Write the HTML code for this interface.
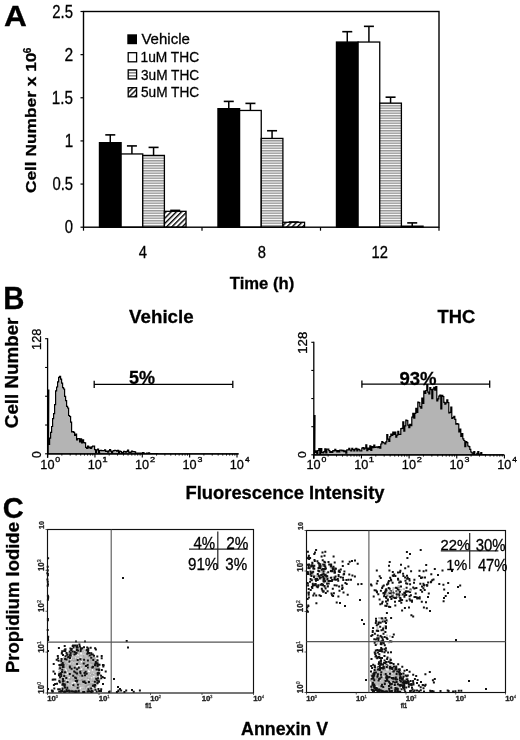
<!DOCTYPE html>
<html><head><meta charset="utf-8"><style>
html,body{margin:0;padding:0;background:#fff;width:520px;height:740px;overflow:hidden}
svg{display:block;will-change:transform}
text{font-family:"Liberation Sans",sans-serif;stroke-width:0.3px}
</style></head><body>
<svg width="520" height="740" viewBox="0 0 520 740">
<text transform="translate(4.01,25.60) scale(1.0598,1)" font-size="29.86" font-weight="bold" fill="#000" stroke="#000">A</text>
<defs><pattern id="hs" width="6" height="2.5" patternUnits="userSpaceOnUse"><rect width="6" height="2.5" fill="#fff"/><rect y="0" width="6" height="1.5" fill="#9a9a9a"/></pattern><pattern id="dg" width="3.7" height="5" patternUnits="userSpaceOnUse" patternTransform="rotate(45)"><rect width="3.7" height="5" fill="#fff"/><rect width="1.4" height="5" fill="#000"/></pattern><pattern id="hsl" width="6" height="3" patternUnits="userSpaceOnUse"><rect width="6" height="3" fill="#fff"/><rect y="0" width="6" height="1.6" fill="#8a8a8a"/></pattern></defs>
<line x1="110.28" y1="134.88" x2="110.28" y2="142.65" stroke="#000" stroke-width="1.5"/>
<line x1="105.28" y1="134.88" x2="115.28" y2="134.88" stroke="#000" stroke-width="1.6"/>
<rect x="99.45" y="142.65" width="21.65" height="84.55" fill="#000" stroke="#000" stroke-width="1.3"/>
<line x1="131.92" y1="145.92" x2="131.92" y2="153.95" stroke="#000" stroke-width="1.5"/>
<line x1="126.92" y1="145.92" x2="136.92" y2="145.92" stroke="#000" stroke-width="1.6"/>
<rect x="121.10" y="153.95" width="21.65" height="73.25" fill="#fff" stroke="#000" stroke-width="1.3"/>
<line x1="153.57" y1="147.39" x2="153.57" y2="155.42" stroke="#000" stroke-width="1.5"/>
<line x1="148.57" y1="147.39" x2="158.57" y2="147.39" stroke="#000" stroke-width="1.6"/>
<rect x="142.75" y="155.42" width="21.65" height="71.78" fill="url(#hs)" stroke="#000" stroke-width="1.3"/>
<line x1="175.22" y1="210.38" x2="175.22" y2="211.32" stroke="#000" stroke-width="1.5"/>
<line x1="170.22" y1="210.38" x2="180.22" y2="210.38" stroke="#000" stroke-width="1.6"/>
<rect x="164.40" y="211.32" width="21.65" height="15.88" fill="url(#dg)" stroke="#000" stroke-width="1.3"/>
<line x1="228.77" y1="101.40" x2="228.77" y2="108.65" stroke="#000" stroke-width="1.5"/>
<line x1="223.77" y1="101.40" x2="233.77" y2="101.40" stroke="#000" stroke-width="1.6"/>
<rect x="217.95" y="108.65" width="21.65" height="118.55" fill="#000" stroke="#000" stroke-width="1.3"/>
<line x1="250.42" y1="103.39" x2="250.42" y2="110.46" stroke="#000" stroke-width="1.5"/>
<line x1="245.42" y1="103.39" x2="255.42" y2="103.39" stroke="#000" stroke-width="1.6"/>
<rect x="239.60" y="110.46" width="21.65" height="116.74" fill="#fff" stroke="#000" stroke-width="1.3"/>
<line x1="272.07" y1="130.74" x2="272.07" y2="138.42" stroke="#000" stroke-width="1.5"/>
<line x1="267.07" y1="130.74" x2="277.07" y2="130.74" stroke="#000" stroke-width="1.6"/>
<rect x="261.25" y="138.42" width="21.65" height="88.78" fill="url(#hs)" stroke="#000" stroke-width="1.3"/>
<line x1="293.72" y1="222.02" x2="293.72" y2="222.28" stroke="#000" stroke-width="1.5"/>
<line x1="288.72" y1="222.02" x2="298.72" y2="222.02" stroke="#000" stroke-width="1.6"/>
<rect x="282.90" y="222.28" width="21.65" height="4.92" fill="url(#dg)" stroke="#000" stroke-width="1.3"/>
<line x1="347.27" y1="31.69" x2="347.27" y2="42.04" stroke="#000" stroke-width="1.5"/>
<line x1="342.27" y1="31.69" x2="352.27" y2="31.69" stroke="#000" stroke-width="1.6"/>
<rect x="336.45" y="42.04" width="21.65" height="185.16" fill="#000" stroke="#000" stroke-width="1.3"/>
<line x1="368.92" y1="26.34" x2="368.92" y2="42.04" stroke="#000" stroke-width="1.5"/>
<line x1="363.92" y1="26.34" x2="373.92" y2="26.34" stroke="#000" stroke-width="1.6"/>
<rect x="358.10" y="42.04" width="21.65" height="185.16" fill="#fff" stroke="#000" stroke-width="1.3"/>
<line x1="390.57" y1="97.18" x2="390.57" y2="103.13" stroke="#000" stroke-width="1.5"/>
<line x1="385.57" y1="97.18" x2="395.57" y2="97.18" stroke="#000" stroke-width="1.6"/>
<rect x="379.75" y="103.13" width="21.65" height="124.07" fill="url(#hs)" stroke="#000" stroke-width="1.3"/>
<line x1="412.22" y1="222.89" x2="412.22" y2="226.16" stroke="#000" stroke-width="1.5"/>
<line x1="407.22" y1="222.89" x2="417.22" y2="222.89" stroke="#000" stroke-width="1.6"/>
<rect x="401.40" y="226.16" width="21.65" height="1.04" fill="url(#dg)" stroke="#000" stroke-width="1.3"/>
<rect x="83.5" y="11.5" width="355.5" height="215.7" fill="none" stroke="#000" stroke-width="1.4"/>
<line x1="80.50" y1="227.20" x2="83.50" y2="227.20" stroke="#000" stroke-width="1.2"/>
<line x1="80.50" y1="184.06" x2="83.50" y2="184.06" stroke="#000" stroke-width="1.2"/>
<line x1="80.50" y1="140.92" x2="83.50" y2="140.92" stroke="#000" stroke-width="1.2"/>
<line x1="80.50" y1="97.78" x2="83.50" y2="97.78" stroke="#000" stroke-width="1.2"/>
<line x1="80.50" y1="54.64" x2="83.50" y2="54.64" stroke="#000" stroke-width="1.2"/>
<line x1="80.50" y1="11.50" x2="83.50" y2="11.50" stroke="#000" stroke-width="1.2"/>
<line x1="83.50" y1="227.20" x2="83.50" y2="230.70" stroke="#000" stroke-width="1.2"/>
<line x1="202.00" y1="227.20" x2="202.00" y2="230.70" stroke="#000" stroke-width="1.2"/>
<line x1="320.50" y1="227.20" x2="320.50" y2="230.70" stroke="#000" stroke-width="1.2"/>
<line x1="439.00" y1="227.20" x2="439.00" y2="230.70" stroke="#000" stroke-width="1.2"/>
<text transform="translate(52.25,17.60) scale(0.8562,1)" font-size="17.43" fill="#000" stroke="#000">2.5</text>
<text transform="translate(64.52,60.74) scale(0.8953,1)" font-size="17.43" fill="#000" stroke="#000">2</text>
<text transform="translate(51.86,103.88) scale(0.8606,1)" font-size="17.68" fill="#000" stroke="#000">1.5</text>
<text transform="translate(64.66,147.02) scale(0.8581,1)" font-size="17.68" fill="#000" stroke="#000">1</text>
<text transform="translate(52.41,190.16) scale(0.8497,1)" font-size="17.43" fill="#000" stroke="#000">0.5</text>
<text transform="translate(64.71,233.30) scale(0.8487,1)" font-size="17.43" fill="#000" stroke="#000">0</text>
<text transform="translate(138.73,257.70) scale(0.8856,1)" font-size="16.67" fill="#000" stroke="#000">4</text>
<text transform="translate(257.87,257.70) scale(0.8984,1)" font-size="16.43" fill="#000" stroke="#000">8</text>
<text transform="translate(371.62,257.70) scale(0.8984,1)" font-size="16.43" fill="#000" stroke="#000">12</text>
<text transform="translate(229.83,289.20) scale(1.0275,1)" font-size="16.20" font-weight="bold" fill="#000" stroke="#000">Time (h)</text>
<rect x="127.3" y="34.3" width="9.7" height="9.9" fill="#000"/>
<text transform="translate(141.42,44.40) scale(1.0180,1)" font-size="14.76" fill="#000" stroke="#000">Vehicle</text>
<rect x="128.2" y="52.7" width="8.4" height="9.1" fill="#fff" stroke="#000" stroke-width="1.3"/>
<text transform="translate(140.47,62.30) scale(0.9017,1)" font-size="15.29" fill="#000" stroke="#000">1uM THC</text>
<rect x="128.2" y="69.9" width="8.4" height="9.1" fill="url(#hsl)" stroke="#000" stroke-width="1.3"/>
<text transform="translate(140.95,79.50) scale(0.8942,1)" font-size="15.29" fill="#000" stroke="#000">3uM THC</text>
<rect x="128.2" y="87.7" width="8.4" height="9.1" fill="url(#dg)" stroke="#000" stroke-width="1.3"/>
<text transform="translate(140.95,97.30) scale(0.8942,1)" font-size="15.29" fill="#000" stroke="#000">5uM THC</text>
<text transform="translate(35.60,193.09) rotate(-90) scale(1.1214,1)" font-size="15.45" font-weight="bold" fill="#000" stroke="#000">Cell Number x 10</text>
<text transform="translate(31.10,53.15) rotate(-90) scale(0.9116,1)" font-size="10.86" font-weight="bold" fill="#000" stroke="#000">6</text>
<text transform="translate(3.29,309.00) scale(0.9506,1)" font-size="30.87" font-weight="bold" fill="#000" stroke="#000">B</text>
<text transform="translate(129.11,322.80) scale(0.9989,1)" font-size="18.76" font-weight="bold" fill="#000" stroke="#000">Vehicle</text>
<text transform="translate(437.62,322.80) scale(0.9863,1)" font-size="18.57" font-weight="bold" fill="#000" stroke="#000">THC</text>
<text transform="translate(18.30,428.15) rotate(-90) scale(1.0239,1)" font-size="18.34" font-weight="bold" fill="#000" stroke="#000">Cell Number</text>
<text transform="translate(185.51,499.00) scale(0.9981,1)" font-size="18.40" font-weight="bold" fill="#000" stroke="#000">Fluorescence Intensity</text>
<path d="M48.1,453.8 L48.1,390.0 L48.8,390.0 L48.6,444.4 L49.6,444.4 L49.6,438.1 L50.6,438.1 L50.6,432.4 L51.6,432.4 L51.6,426.5 L52.6,426.5 L52.6,418.7 L53.6,418.7 L53.6,413.7 L54.6,413.7 L54.6,404.7 L55.6,404.7 L55.6,390.8 L56.6,390.8 L56.6,387.0 L57.6,387.0 L57.6,381.8 L58.6,381.8 L58.6,377.3 L59.6,377.3 L59.6,376.4 L60.6,376.4 L60.6,379.1 L61.6,379.1 L61.6,383.2 L62.6,383.2 L62.6,387.6 L63.6,387.6 L63.6,389.0 L64.6,389.0 L64.6,396.3 L65.6,396.3 L65.6,400.7 L66.6,400.7 L66.6,406.3 L67.6,406.3 L67.6,408.0 L68.6,408.0 L68.6,415.5 L69.6,415.5 L69.6,416.5 L70.6,416.5 L70.6,422.1 L71.6,422.1 L71.6,431.8 L72.6,431.8 L72.6,431.7 L73.6,431.7 L73.6,432.3 L74.6,432.3 L74.6,435.3 L75.6,435.3 L75.6,434.2 L76.6,434.2 L76.6,439.9 L77.6,439.9 L77.6,438.5 L78.6,438.5 L78.6,438.7 L79.6,438.7 L79.6,441.9 L80.6,441.9 L80.6,438.9 L81.6,438.9 L81.6,442.8 L82.6,442.8 L82.6,439.9 L83.6,439.9 L83.6,442.7 L84.6,442.7 L84.6,442.8 L85.6,442.8 L85.6,447.3 L86.6,447.3 L86.6,448.5 L87.6,448.5 L87.6,446.0 L88.6,446.0 L88.6,448.0 L89.6,448.0 L89.6,447.0 L90.6,447.0 L90.6,448.4 L91.6,448.4 L91.6,446.9 L92.6,446.9 L92.6,446.0 L93.6,446.0 L93.6,446.2 L94.6,446.2 L94.6,449.6 L95.6,449.6 L95.6,452.4 L96.6,452.4 L96.6,449.9 L97.6,449.9 L97.6,449.0 L98.6,449.0 L98.6,452.6 L99.6,452.6 L99.6,450.5 L100.6,450.5 L100.6,450.4 L101.6,450.4 L101.6,450.7 L102.6,450.7 L102.6,450.6 L103.6,450.6 L103.6,450.7 L104.6,450.7 L104.6,449.9 L105.6,449.9 L105.6,451.5 L106.6,451.5 L106.6,451.0 L107.6,451.0 L107.6,452.1 L108.6,452.1 L108.6,450.9 L109.6,450.9 L109.6,449.7 L110.6,449.7 L110.6,451.1 L111.6,451.1 L111.6,452.6 L112.6,452.6 L112.6,451.0 L113.6,451.0 L113.6,450.6 L114.6,450.6 L114.6,450.4 L115.6,450.4 L115.6,450.5 L116.6,450.5 L116.6,451.1 L117.6,451.1 L117.6,450.4 L118.6,450.4 L118.6,452.6 L119.6,452.6 L119.6,451.2 L120.6,451.2 L120.6,451.5 L121.6,451.5 L121.6,452.6 L122.6,452.6 L122.6,452.6 L123.6,452.6 L123.6,451.3 L124.6,451.3 L124.6,451.7 L125.6,451.7 L125.6,452.1 L126.6,452.1 L126.6,451.3 L127.6,451.3 L127.6,450.1 L128.6,450.1 L128.6,452.1 L129.6,452.1 L129.6,452.4 L130.6,452.4 L130.6,452.1 L131.6,452.1 L131.6,451.1 L132.6,451.1 L132.6,451.7 L133.6,451.7 L133.6,451.5 L134.6,451.5 L134.6,451.8 L135.6,451.8 L135.6,453.2 L136.6,453.2 L136.6,453.6 L137.6,453.6 L137.6,453.1 L138.6,453.1 L138.6,453.2 L139.6,453.2 L139.6,453.5 L140.6,453.5 L140.6,453.0 L141.6,453.0 L141.6,453.0 L142.6,453.0 L142.6,452.6 L143.6,452.6 L143.6,453.2 L144.6,453.2 L144.6,453.8 L145.6,453.8 L145.6,453.8 L146.6,453.8 L146.6,453.1 L147.6,453.1 L147.6,453.1 L148.6,453.1 L148.6,452.8 L149.6,452.8 L149.6,453.8 L150.6,453.8 L150.6,453.6 L151.6,453.6 L151.6,453.6 L152.6,453.6 L152.6,453.7 L153.6,453.7 L153.6,453.7 L154.6,453.7 L154.6,453.7 L155.6,453.7 L155.6,453.7 L156.6,453.7 L156.6,453.7 L157.6,453.7 L157.6,453.8 L158.6,453.8 L158.6,453.8 L159.6,453.8 L159.6,453.8 L160.6,453.8 L160.6,453.8 L161.6,453.8 L161.6,453.8 L162.6,453.8 L162.6,453.8 L163.6,453.8 L163.6,453.8 L164.6,453.8 L164.6,453.8 L165.6,453.8 L165.6,453.8 L166.6,453.8 L166.6,453.8 L167.6,453.8 L167.6,453.8 L168.6,453.8 L168.6,453.8 L169.6,453.8 L169.6,453.8 L170.6,453.8 L170.6,453.8 L171.6,453.8 L171.6,453.8 L172.6,453.8 L172.6,453.8 L173.6,453.8 L173.6,453.8 L174.6,453.8 L174.6,453.8 L175.6,453.8 L175.6,453.8 L176.6,453.8 L176.6,453.8 L177.6,453.8 L177.6,453.8 L178.6,453.8 L178.6,453.8 L179.6,453.8 L179.6,453.8 L180.6,453.8 L180.6,453.8 L181.6,453.8 L181.6,453.8 L182.6,453.8 L182.6,453.8 L183.6,453.8 L183.6,453.8 L184.6,453.8 L184.6,453.8 L185.6,453.8 L185.6,453.8 L186.6,453.8 L186.6,453.8 L187.6,453.8 L187.6,453.8 L188.6,453.8 L188.6,453.8 L189.6,453.8 L189.6,453.8 L190.6,453.8 L190.6,453.8 L191.6,453.8 L191.6,453.8 L192.6,453.8 L192.6,453.8 L193.6,453.8 L193.6,453.8 L194.6,453.8 L194.6,453.8 L195.6,453.8 L195.6,453.8 L196.6,453.8 L196.6,453.8 L197.6,453.8 L197.6,453.8 L198.6,453.8 L198.6,453.8 L199.6,453.8 L199.6,453.8 L200.6,453.8 L200.6,453.8 L201.6,453.8 L201.6,453.8 L202.6,453.8 L202.6,453.8 L203.6,453.8 L203.6,453.8 L204.6,453.8 L204.6,453.8 L205.6,453.8 L205.6,453.8 L206.6,453.8 L206.6,453.8 L207.6,453.8 L207.6,453.8 L208.6,453.8 L208.6,453.8 L209.6,453.8 L209.6,453.8 L210.6,453.8 L210.6,453.8 L211.6,453.8 L211.6,453.8 L212.6,453.8 L212.6,453.8 L213.6,453.8 L213.6,453.8 L214.6,453.8 L214.6,453.8 L215.6,453.8 L215.6,453.8 L216.6,453.8 L216.6,453.8 L217.6,453.8 L217.6,453.8 L218.6,453.8 L218.6,453.8 L219.6,453.8 L219.6,453.8 L220.6,453.8 L220.6,453.8 L221.6,453.8 L221.6,453.8 L222.6,453.8 L222.6,453.8 L223.6,453.8 L223.6,453.8 L224.6,453.8 L224.6,453.8 L225.6,453.8 L225.6,453.8 L226.6,453.8 L226.6,453.8 L227.6,453.8 L227.6,453.8 L228.6,453.8 L228.6,453.8 L229.6,453.8 L229.6,453.8 L230.6,453.8 L230.6,453.8 L231.6,453.8 L231.6,453.8 L232.6,453.8 L232.6,453.8 L233.6,453.8 L233.6,453.8 L234.6,453.8 L234.6,453.8 L235.6,453.8 L235.6,453.8 L236.6,453.8 L236.6,453.8 L237.6,453.8 L237.6,453.8 L238.6,453.8 L238.0,453.8 Z" fill="#b4b4b4" stroke="#000" stroke-width="1.2" stroke-linejoin="miter"/>
<line x1="47.60" y1="338.20" x2="47.60" y2="457.80" stroke="#000" stroke-width="1.3"/>
<line x1="47.00" y1="453.80" x2="238.50" y2="453.80" stroke="#000" stroke-width="1.3"/>
<line x1="45.10" y1="338.70" x2="47.60" y2="338.70" stroke="#000" stroke-width="1.1"/>
<line x1="45.10" y1="367.48" x2="47.60" y2="367.48" stroke="#000" stroke-width="1.1"/>
<line x1="45.10" y1="396.25" x2="47.60" y2="396.25" stroke="#000" stroke-width="1.1"/>
<line x1="45.10" y1="425.02" x2="47.60" y2="425.02" stroke="#000" stroke-width="1.1"/>
<line x1="45.10" y1="453.80" x2="47.60" y2="453.80" stroke="#000" stroke-width="1.1"/>
<line x1="47.60" y1="453.80" x2="47.60" y2="457.60" stroke="#000" stroke-width="1.1"/>
<line x1="61.85" y1="453.80" x2="61.85" y2="455.60" stroke="#000" stroke-width="0.9"/>
<line x1="70.19" y1="453.80" x2="70.19" y2="455.60" stroke="#000" stroke-width="0.9"/>
<line x1="76.11" y1="453.80" x2="76.11" y2="455.60" stroke="#000" stroke-width="0.9"/>
<line x1="80.70" y1="453.80" x2="80.70" y2="455.60" stroke="#000" stroke-width="0.9"/>
<line x1="84.45" y1="453.80" x2="84.45" y2="455.60" stroke="#000" stroke-width="0.9"/>
<line x1="87.62" y1="453.80" x2="87.62" y2="455.60" stroke="#000" stroke-width="0.9"/>
<line x1="90.36" y1="453.80" x2="90.36" y2="455.60" stroke="#000" stroke-width="0.9"/>
<line x1="92.78" y1="453.80" x2="92.78" y2="455.60" stroke="#000" stroke-width="0.9"/>
<text transform="translate(40.35,468.90) scale(0.9457,1)" font-size="13.43" fill="#000" stroke="#000">10</text>
<text transform="translate(55.35,462.40) scale(1.2760,1)" font-size="6.86" fill="#000" stroke="#000">0</text>
<line x1="94.95" y1="453.80" x2="94.95" y2="457.60" stroke="#000" stroke-width="1.1"/>
<line x1="109.20" y1="453.80" x2="109.20" y2="455.60" stroke="#000" stroke-width="0.9"/>
<line x1="117.54" y1="453.80" x2="117.54" y2="455.60" stroke="#000" stroke-width="0.9"/>
<line x1="123.46" y1="453.80" x2="123.46" y2="455.60" stroke="#000" stroke-width="0.9"/>
<line x1="128.05" y1="453.80" x2="128.05" y2="455.60" stroke="#000" stroke-width="0.9"/>
<line x1="131.80" y1="453.80" x2="131.80" y2="455.60" stroke="#000" stroke-width="0.9"/>
<line x1="134.97" y1="453.80" x2="134.97" y2="455.60" stroke="#000" stroke-width="0.9"/>
<line x1="137.71" y1="453.80" x2="137.71" y2="455.60" stroke="#000" stroke-width="0.9"/>
<line x1="140.13" y1="453.80" x2="140.13" y2="455.60" stroke="#000" stroke-width="0.9"/>
<text transform="translate(87.70,468.90) scale(0.9457,1)" font-size="13.43" fill="#000" stroke="#000">10</text>
<text transform="translate(102.33,462.40) scale(1.3879,1)" font-size="6.96" fill="#000" stroke="#000">1</text>
<line x1="142.30" y1="453.80" x2="142.30" y2="457.60" stroke="#000" stroke-width="1.1"/>
<line x1="156.55" y1="453.80" x2="156.55" y2="455.60" stroke="#000" stroke-width="0.9"/>
<line x1="164.89" y1="453.80" x2="164.89" y2="455.60" stroke="#000" stroke-width="0.9"/>
<line x1="170.81" y1="453.80" x2="170.81" y2="455.60" stroke="#000" stroke-width="0.9"/>
<line x1="175.40" y1="453.80" x2="175.40" y2="455.60" stroke="#000" stroke-width="0.9"/>
<line x1="179.15" y1="453.80" x2="179.15" y2="455.60" stroke="#000" stroke-width="0.9"/>
<line x1="182.32" y1="453.80" x2="182.32" y2="455.60" stroke="#000" stroke-width="0.9"/>
<line x1="185.06" y1="453.80" x2="185.06" y2="455.60" stroke="#000" stroke-width="0.9"/>
<line x1="187.48" y1="453.80" x2="187.48" y2="455.60" stroke="#000" stroke-width="0.9"/>
<text transform="translate(135.05,468.90) scale(0.9457,1)" font-size="13.43" fill="#000" stroke="#000">10</text>
<text transform="translate(149.94,462.40) scale(1.3462,1)" font-size="6.86" fill="#000" stroke="#000">2</text>
<line x1="189.65" y1="453.80" x2="189.65" y2="457.60" stroke="#000" stroke-width="1.1"/>
<line x1="203.90" y1="453.80" x2="203.90" y2="455.60" stroke="#000" stroke-width="0.9"/>
<line x1="212.24" y1="453.80" x2="212.24" y2="455.60" stroke="#000" stroke-width="0.9"/>
<line x1="218.16" y1="453.80" x2="218.16" y2="455.60" stroke="#000" stroke-width="0.9"/>
<line x1="222.75" y1="453.80" x2="222.75" y2="455.60" stroke="#000" stroke-width="0.9"/>
<line x1="226.50" y1="453.80" x2="226.50" y2="455.60" stroke="#000" stroke-width="0.9"/>
<line x1="229.67" y1="453.80" x2="229.67" y2="455.60" stroke="#000" stroke-width="0.9"/>
<line x1="232.41" y1="453.80" x2="232.41" y2="455.60" stroke="#000" stroke-width="0.9"/>
<line x1="234.83" y1="453.80" x2="234.83" y2="455.60" stroke="#000" stroke-width="0.9"/>
<text transform="translate(182.40,468.90) scale(0.9457,1)" font-size="13.43" fill="#000" stroke="#000">10</text>
<text transform="translate(197.40,462.40) scale(1.2895,1)" font-size="6.86" fill="#000" stroke="#000">3</text>
<line x1="237.00" y1="453.80" x2="237.00" y2="457.60" stroke="#000" stroke-width="1.1"/>
<text transform="translate(229.75,468.90) scale(0.9457,1)" font-size="13.43" fill="#000" stroke="#000">10</text>
<text transform="translate(244.93,462.40) scale(1.1955,1)" font-size="6.96" fill="#000" stroke="#000">4</text>
<text transform="translate(40.80,349.96) rotate(-90) scale(1.0161,1)" font-size="12.57" fill="#000" stroke="#000">128</text>
<text transform="translate(40.90,457.88) rotate(-90) scale(0.9722,1)" font-size="12.43" fill="#000" stroke="#000">0</text>
<line x1="94.20" y1="384.30" x2="232.80" y2="384.30" stroke="#000" stroke-width="1.3"/>
<line x1="94.20" y1="380.70" x2="94.20" y2="387.90" stroke="#000" stroke-width="1.3"/>
<line x1="232.80" y1="380.70" x2="232.80" y2="387.90" stroke="#000" stroke-width="1.3"/>
<text transform="translate(129.06,384.00) scale(0.9615,1)" font-size="18.71" font-weight="bold" fill="#000" stroke="#000">5%</text>
<path d="M314.3,454.8 L314.3,415.6 L315.0,415.6 L314.8,452.4 L315.8,452.4 L315.8,450.8 L316.8,450.8 L316.8,453.4 L317.8,453.4 L317.8,450.5 L318.8,450.5 L318.8,448.5 L319.8,448.5 L319.8,454.6 L320.8,454.6 L320.8,448.6 L321.8,448.6 L321.8,452.4 L322.8,452.4 L322.8,452.9 L323.8,452.9 L323.8,451.6 L324.8,451.6 L324.8,448.8 L325.8,448.8 L325.8,452.9 L326.8,452.9 L326.8,449.1 L327.8,449.1 L327.8,449.2 L328.8,449.2 L328.8,450.7 L329.8,450.7 L329.8,452.5 L330.8,452.5 L330.8,451.7 L331.8,451.7 L331.8,452.5 L332.8,452.5 L332.8,450.5 L333.8,450.5 L333.8,450.9 L334.8,450.9 L334.8,449.4 L335.8,449.4 L335.8,450.6 L336.8,450.6 L336.8,452.0 L337.8,452.0 L337.8,450.6 L338.8,450.6 L338.8,451.8 L339.8,451.8 L339.8,450.1 L340.8,450.1 L340.8,450.0 L341.8,450.0 L341.8,450.9 L342.8,450.9 L342.8,450.4 L343.8,450.4 L343.8,451.6 L344.8,451.6 L344.8,450.8 L345.8,450.8 L345.8,453.2 L346.8,453.2 L346.8,449.9 L347.8,449.9 L347.8,449.8 L348.8,449.8 L348.8,448.3 L349.8,448.3 L349.8,450.0 L350.8,450.0 L350.8,451.0 L351.8,451.0 L351.8,448.4 L352.8,448.4 L352.8,449.5 L353.8,449.5 L353.8,450.8 L354.8,450.8 L354.8,449.2 L355.8,449.2 L355.8,448.4 L356.8,448.4 L356.8,450.9 L357.8,450.9 L357.8,449.2 L358.8,449.2 L358.8,449.7 L359.8,449.7 L359.8,451.0 L360.8,451.0 L360.8,450.9 L361.8,450.9 L361.8,448.1 L362.8,448.1 L362.8,447.7 L363.8,447.7 L363.8,449.1 L364.8,449.1 L364.8,448.2 L365.8,448.2 L365.8,444.8 L366.8,444.8 L366.8,450.7 L367.8,450.7 L367.8,448.2 L368.8,448.2 L368.8,449.5 L369.8,449.5 L369.8,445.8 L370.8,445.8 L370.8,450.4 L371.8,450.4 L371.8,446.7 L372.8,446.7 L372.8,447.6 L373.8,447.6 L373.8,445.0 L374.8,445.0 L374.8,447.3 L375.8,447.3 L375.8,447.1 L376.8,447.1 L376.8,446.8 L377.8,446.8 L377.8,447.7 L378.8,447.7 L378.8,446.6 L379.8,446.6 L379.8,448.1 L380.8,448.1 L380.8,444.0 L381.8,444.0 L381.8,441.6 L382.8,441.6 L382.8,442.6 L383.8,442.6 L383.8,443.0 L384.8,443.0 L384.8,443.8 L385.8,443.8 L385.8,441.9 L386.8,441.9 L386.8,434.5 L387.8,434.5 L387.8,439.2 L388.8,439.2 L388.8,441.3 L389.8,441.3 L389.8,436.7 L390.8,436.7 L390.8,434.1 L391.8,434.1 L391.8,435.4 L392.8,435.4 L392.8,432.1 L393.8,432.1 L393.8,434.5 L394.8,434.5 L394.8,432.2 L395.8,432.2 L395.8,437.1 L396.8,437.1 L396.8,435.1 L397.8,435.1 L397.8,431.4 L398.8,431.4 L398.8,434.3 L399.8,434.3 L399.8,434.3 L400.8,434.3 L400.8,428.7 L401.8,428.7 L401.8,428.3 L402.8,428.3 L402.8,421.8 L403.8,421.8 L403.8,431.2 L404.8,431.2 L404.8,425.8 L405.8,425.8 L405.8,420.2 L406.8,420.2 L406.8,420.7 L407.8,420.7 L407.8,425.1 L408.8,425.1 L408.8,427.7 L409.8,427.7 L409.8,424.3 L410.8,424.3 L410.8,425.6 L411.8,425.6 L411.8,417.2 L412.8,417.2 L412.8,413.3 L413.8,413.3 L413.8,418.2 L414.8,418.2 L414.8,413.4 L415.8,413.4 L415.8,408.4 L416.8,408.4 L416.8,412.4 L417.8,412.4 L417.8,402.0 L418.8,402.0 L418.8,402.6 L419.8,402.6 L419.8,406.6 L420.8,406.6 L420.8,408.1 L421.8,408.1 L421.8,398.2 L422.8,398.2 L422.8,403.5 L423.8,403.5 L423.8,391.2 L424.8,391.2 L424.8,393.3 L425.8,393.3 L425.8,390.5 L426.8,390.5 L426.8,384.6 L427.8,384.6 L427.8,392.2 L428.8,392.2 L428.8,394.0 L429.8,394.0 L429.8,387.6 L430.8,387.6 L430.8,389.6 L431.8,389.6 L431.8,398.7 L432.8,398.7 L432.8,389.2 L433.8,389.2 L433.8,387.3 L434.8,387.3 L434.8,390.1 L435.8,390.1 L435.8,386.5 L436.8,386.5 L436.8,400.8 L437.8,400.8 L437.8,398.9 L438.8,398.9 L438.8,396.1 L439.8,396.1 L439.8,395.0 L440.8,395.0 L440.8,409.0 L441.8,409.0 L441.8,395.4 L442.8,395.4 L442.8,396.5 L443.8,396.5 L443.8,402.4 L444.8,402.4 L444.8,404.2 L445.8,404.2 L445.8,402.8 L446.8,402.8 L446.8,399.9 L447.8,399.9 L447.8,402.5 L448.8,402.5 L448.8,413.0 L449.8,413.0 L449.8,412.3 L450.8,412.3 L450.8,407.0 L451.8,407.0 L451.8,418.4 L452.8,418.4 L452.8,417.7 L453.8,417.7 L453.8,416.3 L454.8,416.3 L454.8,419.4 L455.8,419.4 L455.8,424.2 L456.8,424.2 L456.8,423.7 L457.8,423.7 L457.8,424.2 L458.8,424.2 L458.8,432.0 L459.8,432.0 L459.8,429.0 L460.8,429.0 L460.8,436.5 L461.8,436.5 L461.8,433.6 L462.8,433.6 L462.8,438.9 L463.8,438.9 L463.8,440.5 L464.8,440.5 L464.8,446.7 L465.8,446.7 L465.8,441.7 L466.8,441.7 L466.8,442.7 L467.8,442.7 L467.8,446.0 L468.8,446.0 L468.8,446.7 L469.8,446.7 L469.8,449.3 L470.8,449.3 L470.8,452.0 L471.8,452.0 L471.8,452.9 L472.8,452.9 L472.8,454.5 L473.8,454.5 L473.8,451.6 L474.8,451.6 L474.8,454.8 L475.8,454.8 L475.8,454.8 L476.8,454.8 L476.8,453.4 L477.8,453.4 L477.8,451.5 L478.8,451.5 L478.8,454.1 L479.8,454.1 L479.8,454.5 L480.8,454.5 L480.8,452.6 L481.8,452.6 L481.8,454.7 L482.8,454.7 L482.8,454.6 L483.8,454.6 L483.8,454.7 L484.8,454.7 L484.8,454.7 L485.8,454.7 L485.8,454.8 L486.8,454.8 L486.8,454.8 L487.8,454.8 L487.8,454.8 L488.8,454.8 L488.8,454.8 L489.8,454.8 L489.8,454.8 L490.8,454.8 L490.8,454.8 L491.8,454.8 L491.8,454.8 L492.8,454.8 L492.8,454.8 L493.8,454.8 L493.8,454.8 L494.8,454.8 L494.8,454.8 L495.8,454.8 L495.8,454.8 L496.8,454.8 L496.8,454.8 L497.8,454.8 L497.8,454.8 L498.8,454.8 L498.8,454.8 L499.8,454.8 L499.8,454.8 L500.8,454.8 L500.8,454.8 L501.8,454.8 L501.8,454.8 L502.8,454.8 L502.8,454.8 L503.8,454.8 L503.8,454.8 Z" fill="#b4b4b4" stroke="#000" stroke-width="1.2" stroke-linejoin="miter"/>
<line x1="313.80" y1="341.80" x2="313.80" y2="458.80" stroke="#000" stroke-width="1.3"/>
<line x1="313.20" y1="454.80" x2="504.30" y2="454.80" stroke="#000" stroke-width="1.3"/>
<line x1="311.30" y1="342.30" x2="313.80" y2="342.30" stroke="#000" stroke-width="1.1"/>
<line x1="311.30" y1="370.43" x2="313.80" y2="370.43" stroke="#000" stroke-width="1.1"/>
<line x1="311.30" y1="398.55" x2="313.80" y2="398.55" stroke="#000" stroke-width="1.1"/>
<line x1="311.30" y1="426.68" x2="313.80" y2="426.68" stroke="#000" stroke-width="1.1"/>
<line x1="311.30" y1="454.80" x2="313.80" y2="454.80" stroke="#000" stroke-width="1.1"/>
<line x1="313.80" y1="454.80" x2="313.80" y2="458.60" stroke="#000" stroke-width="1.1"/>
<line x1="328.14" y1="454.80" x2="328.14" y2="456.60" stroke="#000" stroke-width="0.9"/>
<line x1="336.53" y1="454.80" x2="336.53" y2="456.60" stroke="#000" stroke-width="0.9"/>
<line x1="342.49" y1="454.80" x2="342.49" y2="456.60" stroke="#000" stroke-width="0.9"/>
<line x1="347.11" y1="454.80" x2="347.11" y2="456.60" stroke="#000" stroke-width="0.9"/>
<line x1="350.88" y1="454.80" x2="350.88" y2="456.60" stroke="#000" stroke-width="0.9"/>
<line x1="354.07" y1="454.80" x2="354.07" y2="456.60" stroke="#000" stroke-width="0.9"/>
<line x1="356.83" y1="454.80" x2="356.83" y2="456.60" stroke="#000" stroke-width="0.9"/>
<line x1="359.27" y1="454.80" x2="359.27" y2="456.60" stroke="#000" stroke-width="0.9"/>
<text transform="translate(306.55,468.90) scale(0.9457,1)" font-size="13.43" fill="#000" stroke="#000">10</text>
<text transform="translate(321.55,462.40) scale(1.2760,1)" font-size="6.86" fill="#000" stroke="#000">0</text>
<line x1="361.45" y1="454.80" x2="361.45" y2="458.60" stroke="#000" stroke-width="1.1"/>
<line x1="375.79" y1="454.80" x2="375.79" y2="456.60" stroke="#000" stroke-width="0.9"/>
<line x1="384.18" y1="454.80" x2="384.18" y2="456.60" stroke="#000" stroke-width="0.9"/>
<line x1="390.14" y1="454.80" x2="390.14" y2="456.60" stroke="#000" stroke-width="0.9"/>
<line x1="394.76" y1="454.80" x2="394.76" y2="456.60" stroke="#000" stroke-width="0.9"/>
<line x1="398.53" y1="454.80" x2="398.53" y2="456.60" stroke="#000" stroke-width="0.9"/>
<line x1="401.72" y1="454.80" x2="401.72" y2="456.60" stroke="#000" stroke-width="0.9"/>
<line x1="404.48" y1="454.80" x2="404.48" y2="456.60" stroke="#000" stroke-width="0.9"/>
<line x1="406.92" y1="454.80" x2="406.92" y2="456.60" stroke="#000" stroke-width="0.9"/>
<text transform="translate(354.20,468.90) scale(0.9457,1)" font-size="13.43" fill="#000" stroke="#000">10</text>
<text transform="translate(368.83,462.40) scale(1.3879,1)" font-size="6.96" fill="#000" stroke="#000">1</text>
<line x1="409.10" y1="454.80" x2="409.10" y2="458.60" stroke="#000" stroke-width="1.1"/>
<line x1="423.44" y1="454.80" x2="423.44" y2="456.60" stroke="#000" stroke-width="0.9"/>
<line x1="431.83" y1="454.80" x2="431.83" y2="456.60" stroke="#000" stroke-width="0.9"/>
<line x1="437.79" y1="454.80" x2="437.79" y2="456.60" stroke="#000" stroke-width="0.9"/>
<line x1="442.41" y1="454.80" x2="442.41" y2="456.60" stroke="#000" stroke-width="0.9"/>
<line x1="446.18" y1="454.80" x2="446.18" y2="456.60" stroke="#000" stroke-width="0.9"/>
<line x1="449.37" y1="454.80" x2="449.37" y2="456.60" stroke="#000" stroke-width="0.9"/>
<line x1="452.13" y1="454.80" x2="452.13" y2="456.60" stroke="#000" stroke-width="0.9"/>
<line x1="454.57" y1="454.80" x2="454.57" y2="456.60" stroke="#000" stroke-width="0.9"/>
<text transform="translate(401.85,468.90) scale(0.9457,1)" font-size="13.43" fill="#000" stroke="#000">10</text>
<text transform="translate(416.74,462.40) scale(1.3462,1)" font-size="6.86" fill="#000" stroke="#000">2</text>
<line x1="456.75" y1="454.80" x2="456.75" y2="458.60" stroke="#000" stroke-width="1.1"/>
<line x1="471.09" y1="454.80" x2="471.09" y2="456.60" stroke="#000" stroke-width="0.9"/>
<line x1="479.48" y1="454.80" x2="479.48" y2="456.60" stroke="#000" stroke-width="0.9"/>
<line x1="485.44" y1="454.80" x2="485.44" y2="456.60" stroke="#000" stroke-width="0.9"/>
<line x1="490.06" y1="454.80" x2="490.06" y2="456.60" stroke="#000" stroke-width="0.9"/>
<line x1="493.83" y1="454.80" x2="493.83" y2="456.60" stroke="#000" stroke-width="0.9"/>
<line x1="497.02" y1="454.80" x2="497.02" y2="456.60" stroke="#000" stroke-width="0.9"/>
<line x1="499.78" y1="454.80" x2="499.78" y2="456.60" stroke="#000" stroke-width="0.9"/>
<line x1="502.22" y1="454.80" x2="502.22" y2="456.60" stroke="#000" stroke-width="0.9"/>
<text transform="translate(449.50,468.90) scale(0.9457,1)" font-size="13.43" fill="#000" stroke="#000">10</text>
<text transform="translate(464.50,462.40) scale(1.2895,1)" font-size="6.86" fill="#000" stroke="#000">3</text>
<line x1="504.40" y1="454.80" x2="504.40" y2="458.60" stroke="#000" stroke-width="1.1"/>
<text transform="translate(497.15,468.90) scale(0.9457,1)" font-size="13.43" fill="#000" stroke="#000">10</text>
<text transform="translate(512.33,462.40) scale(1.1955,1)" font-size="6.96" fill="#000" stroke="#000">4</text>
<text transform="translate(306.50,353.69) rotate(-90) scale(1.0839,1)" font-size="12.14" fill="#000" stroke="#000">128</text>
<text transform="translate(306.30,457.88) rotate(-90) scale(1.0442,1)" font-size="11.57" fill="#000" stroke="#000">0</text>
<line x1="361.90" y1="384.20" x2="489.70" y2="384.20" stroke="#000" stroke-width="1.3"/>
<line x1="361.90" y1="380.60" x2="361.90" y2="387.80" stroke="#000" stroke-width="1.3"/>
<line x1="489.70" y1="380.60" x2="489.70" y2="387.80" stroke="#000" stroke-width="1.3"/>
<text transform="translate(399.45,384.50) scale(0.9841,1)" font-size="18.86" font-weight="bold" fill="#000" stroke="#000">93%</text>
<text transform="translate(2.84,517.60) scale(0.9578,1)" font-size="30.29" font-weight="bold" fill="#000" stroke="#000">C</text>
<text transform="translate(241.06,735.00) scale(0.9833,1)" font-size="18.10" font-weight="bold" fill="#000" stroke="#000">Annexin V</text>
<text transform="translate(18.80,673.10) rotate(-90) scale(1.0116,1)" font-size="18.30" font-weight="bold" fill="#000" stroke="#000">Propidium Iodide</text>
<path d="M65.7 683.1h2.0v2.0h-2.0zM92.9 657.1h2.0v2.0h-2.0zM72.9 679.5h2.0v2.0h-2.0zM79.1 679.9h2.0v2.0h-2.0zM77.7 652.4h2.0v2.0h-2.0zM63.2 677.6h2.0v2.0h-2.0zM82.8 674.3h2.0v2.0h-2.0zM79.6 678.7h2.0v2.0h-2.0zM71.1 652.9h2.0v2.0h-2.0zM84.6 686.1h2.0v2.0h-2.0zM89.6 651.9h2.0v2.0h-2.0zM63.1 668.4h2.0v2.0h-2.0zM67.0 664.3h2.0v2.0h-2.0zM75.6 649.8h2.0v2.0h-2.0zM72.5 689.2h2.0v2.0h-2.0zM58.7 675.0h2.0v2.0h-2.0zM84.0 660.2h2.0v2.0h-2.0zM69.3 687.1h2.0v2.0h-2.0zM73.9 685.9h2.0v2.0h-2.0zM91.0 688.6h2.0v2.0h-2.0zM78.5 674.9h2.0v2.0h-2.0zM73.9 662.3h2.0v2.0h-2.0zM83.8 671.9h2.0v2.0h-2.0zM83.8 665.8h2.0v2.0h-2.0zM71.1 651.4h2.0v2.0h-2.0zM87.7 657.1h2.0v2.0h-2.0zM79.3 662.4h2.0v2.0h-2.0zM82.6 662.0h2.0v2.0h-2.0zM80.1 673.5h2.0v2.0h-2.0zM77.4 648.6h2.0v2.0h-2.0zM67.8 668.0h2.0v2.0h-2.0zM96.1 660.7h2.0v2.0h-2.0zM72.2 674.8h2.0v2.0h-2.0zM91.2 684.9h2.0v2.0h-2.0zM73.8 664.0h2.0v2.0h-2.0zM59.2 672.0h2.0v2.0h-2.0zM89.7 652.6h2.0v2.0h-2.0zM64.4 662.0h2.0v2.0h-2.0zM97.9 679.0h2.0v2.0h-2.0zM90.2 660.8h2.0v2.0h-2.0zM59.6 678.3h2.0v2.0h-2.0zM81.3 671.2h2.0v2.0h-2.0zM61.8 661.0h2.0v2.0h-2.0zM89.3 666.6h2.0v2.0h-2.0zM94.7 662.0h2.0v2.0h-2.0zM78.0 677.6h2.0v2.0h-2.0zM61.5 665.8h2.0v2.0h-2.0zM84.3 663.0h2.0v2.0h-2.0zM86.9 662.9h2.0v2.0h-2.0zM76.8 652.2h2.0v2.0h-2.0zM70.2 664.0h2.0v2.0h-2.0zM94.2 667.6h2.0v2.0h-2.0zM89.8 683.0h2.0v2.0h-2.0zM76.2 686.9h2.0v2.0h-2.0zM73.8 677.0h2.0v2.0h-2.0zM97.9 672.8h2.0v2.0h-2.0zM67.8 666.6h2.0v2.0h-2.0zM94.6 662.5h2.0v2.0h-2.0zM93.0 668.1h2.0v2.0h-2.0zM92.2 679.7h2.0v2.0h-2.0zM66.7 666.7h2.0v2.0h-2.0zM78.2 682.6h2.0v2.0h-2.0zM94.5 669.6h2.0v2.0h-2.0zM78.8 683.6h2.0v2.0h-2.0zM73.5 673.9h2.0v2.0h-2.0zM68.4 690.8h2.0v2.0h-2.0zM91.4 672.6h2.0v2.0h-2.0zM84.3 682.1h2.0v2.0h-2.0zM76.8 660.9h2.0v2.0h-2.0zM61.8 681.1h2.0v2.0h-2.0zM71.1 677.2h2.0v2.0h-2.0zM77.9 651.1h2.0v2.0h-2.0zM76.9 674.0h2.0v2.0h-2.0zM76.6 676.8h2.0v2.0h-2.0zM72.4 678.2h2.0v2.0h-2.0zM96.1 663.0h2.0v2.0h-2.0zM88.6 662.6h2.0v2.0h-2.0zM86.6 654.0h2.0v2.0h-2.0zM86.8 683.8h2.0v2.0h-2.0zM84.0 689.4h2.0v2.0h-2.0zM85.1 676.3h2.0v2.0h-2.0zM93.2 661.2h2.0v2.0h-2.0zM63.0 672.7h2.0v2.0h-2.0zM90.4 665.5h2.0v2.0h-2.0zM96.7 663.4h2.0v2.0h-2.0zM72.5 652.6h2.0v2.0h-2.0zM70.3 666.0h2.0v2.0h-2.0zM80.7 663.1h2.0v2.0h-2.0zM68.1 661.2h2.0v2.0h-2.0zM59.3 664.1h2.0v2.0h-2.0zM61.2 676.3h2.0v2.0h-2.0zM90.7 673.4h2.0v2.0h-2.0zM86.6 681.5h2.0v2.0h-2.0zM72.8 657.7h2.0v2.0h-2.0zM91.1 658.9h2.0v2.0h-2.0zM61.4 675.0h2.0v2.0h-2.0zM90.0 653.8h2.0v2.0h-2.0zM83.7 691.0h2.0v2.0h-2.0zM72.2 672.5h2.0v2.0h-2.0zM68.6 653.5h2.0v2.0h-2.0zM82.4 684.5h2.0v2.0h-2.0zM81.2 687.4h2.0v2.0h-2.0zM64.4 676.5h2.0v2.0h-2.0zM77.5 670.9h2.0v2.0h-2.0zM76.9 689.3h2.0v2.0h-2.0zM62.6 664.5h2.0v2.0h-2.0zM88.1 687.3h2.0v2.0h-2.0zM94.4 670.2h2.0v2.0h-2.0zM78.6 660.3h2.0v2.0h-2.0zM64.8 658.1h2.0v2.0h-2.0zM78.2 689.6h2.0v2.0h-2.0zM63.1 670.4h2.0v2.0h-2.0zM74.7 684.3h2.0v2.0h-2.0zM83.0 683.9h2.0v2.0h-2.0zM92.5 680.4h2.0v2.0h-2.0zM93.7 683.1h2.0v2.0h-2.0zM83.6 670.5h2.0v2.0h-2.0zM87.4 684.1h2.0v2.0h-2.0zM92.0 657.5h2.0v2.0h-2.0zM75.4 686.6h2.0v2.0h-2.0zM86.9 671.9h2.0v2.0h-2.0zM81.0 665.7h2.0v2.0h-2.0zM94.2 671.8h2.0v2.0h-2.0zM77.0 689.0h2.0v2.0h-2.0zM78.2 662.1h2.0v2.0h-2.0zM60.6 678.7h2.0v2.0h-2.0zM81.2 678.2h2.0v2.0h-2.0zM96.4 660.1h2.0v2.0h-2.0zM82.4 654.4h2.0v2.0h-2.0zM73.1 678.8h2.0v2.0h-2.0zM96.2 664.1h2.0v2.0h-2.0zM85.6 677.4h2.0v2.0h-2.0zM82.4 654.6h2.0v2.0h-2.0zM73.7 684.3h2.0v2.0h-2.0zM91.6 655.9h2.0v2.0h-2.0zM73.2 653.6h2.0v2.0h-2.0zM74.4 669.3h2.0v2.0h-2.0zM60.6 680.9h2.0v2.0h-2.0zM67.2 669.9h2.0v2.0h-2.0zM86.6 651.1h2.0v2.0h-2.0zM74.0 690.7h2.0v2.0h-2.0zM61.4 680.7h2.0v2.0h-2.0zM67.6 669.7h2.0v2.0h-2.0zM88.3 689.8h2.0v2.0h-2.0zM66.2 686.1h2.0v2.0h-2.0zM64.3 666.2h2.0v2.0h-2.0zM78.0 690.8h2.0v2.0h-2.0zM75.3 666.9h2.0v2.0h-2.0zM95.2 678.9h2.0v2.0h-2.0zM91.2 656.7h2.0v2.0h-2.0zM73.0 657.7h2.0v2.0h-2.0zM75.8 670.5h2.0v2.0h-2.0zM82.5 677.8h2.0v2.0h-2.0zM85.4 661.0h2.0v2.0h-2.0zM85.9 689.5h2.0v2.0h-2.0zM72.9 690.2h2.0v2.0h-2.0zM79.1 672.1h2.0v2.0h-2.0zM61.3 665.7h2.0v2.0h-2.0zM71.6 659.9h2.0v2.0h-2.0zM91.6 682.8h2.0v2.0h-2.0zM71.6 671.9h2.0v2.0h-2.0zM88.3 688.3h2.0v2.0h-2.0zM81.2 674.4h2.0v2.0h-2.0zM65.4 665.5h2.0v2.0h-2.0zM91.0 661.2h2.0v2.0h-2.0zM84.7 673.6h2.0v2.0h-2.0zM69.8 653.8h2.0v2.0h-2.0zM70.0 690.4h2.0v2.0h-2.0zM89.4 681.0h2.0v2.0h-2.0zM69.7 683.4h2.0v2.0h-2.0zM82.0 651.1h2.0v2.0h-2.0zM83.4 685.3h2.0v2.0h-2.0zM74.1 670.2h2.0v2.0h-2.0zM68.8 689.5h2.0v2.0h-2.0zM67.6 670.7h2.0v2.0h-2.0zM85.0 683.5h2.0v2.0h-2.0zM66.9 668.6h2.0v2.0h-2.0zM68.7 688.0h2.0v2.0h-2.0zM68.9 678.7h2.0v2.0h-2.0zM83.8 676.2h2.0v2.0h-2.0zM80.1 678.9h2.0v2.0h-2.0zM81.5 663.1h2.0v2.0h-2.0zM74.7 688.1h2.0v2.0h-2.0zM91.7 656.5h2.0v2.0h-2.0zM73.9 668.8h2.0v2.0h-2.0zM69.3 677.9h2.0v2.0h-2.0zM68.7 674.2h2.0v2.0h-2.0zM68.5 685.3h2.0v2.0h-2.0zM90.9 667.0h2.0v2.0h-2.0zM84.3 676.0h2.0v2.0h-2.0zM82.3 655.5h2.0v2.0h-2.0zM71.8 657.4h2.0v2.0h-2.0zM96.3 666.0h2.0v2.0h-2.0zM84.1 687.4h2.0v2.0h-2.0zM88.3 681.0h2.0v2.0h-2.0zM70.5 655.6h2.0v2.0h-2.0zM82.4 667.8h2.0v2.0h-2.0zM63.6 661.2h2.0v2.0h-2.0zM77.6 677.0h2.0v2.0h-2.0zM89.2 679.3h2.0v2.0h-2.0zM72.0 663.7h2.0v2.0h-2.0zM70.1 677.0h2.0v2.0h-2.0zM94.8 666.1h2.0v2.0h-2.0zM69.3 681.9h2.0v2.0h-2.0zM72.2 662.4h2.0v2.0h-2.0zM72.8 683.2h2.0v2.0h-2.0zM87.2 654.7h2.0v2.0h-2.0zM80.6 666.1h2.0v2.0h-2.0zM60.8 673.3h2.0v2.0h-2.0zM69.8 687.0h2.0v2.0h-2.0zM85.9 653.6h2.0v2.0h-2.0zM70.7 689.1h2.0v2.0h-2.0zM94.9 672.1h2.0v2.0h-2.0zM62.9 658.5h2.0v2.0h-2.0zM97.0 675.2h2.0v2.0h-2.0zM98.5 678.6h2.0v2.0h-2.0zM70.3 676.1h2.0v2.0h-2.0zM83.8 679.9h2.0v2.0h-2.0zM59.8 672.5h2.0v2.0h-2.0zM92.3 670.8h2.0v2.0h-2.0zM83.6 690.4h2.0v2.0h-2.0zM87.8 682.9h2.0v2.0h-2.0zM67.5 675.3h2.0v2.0h-2.0zM69.5 683.5h2.0v2.0h-2.0zM63.9 678.0h2.0v2.0h-2.0zM63.7 669.9h2.0v2.0h-2.0zM94.3 676.5h2.0v2.0h-2.0zM82.8 689.2h2.0v2.0h-2.0zM65.3 660.3h2.0v2.0h-2.0zM62.9 687.2h2.0v2.0h-2.0zM75.9 668.7h2.0v2.0h-2.0zM74.7 685.6h2.0v2.0h-2.0zM67.9 658.5h2.0v2.0h-2.0zM83.0 683.1h2.0v2.0h-2.0zM82.2 669.4h2.0v2.0h-2.0zM73.9 683.7h2.0v2.0h-2.0zM69.3 686.7h2.0v2.0h-2.0zM86.9 676.7h2.0v2.0h-2.0zM71.0 665.3h2.0v2.0h-2.0zM91.9 663.3h2.0v2.0h-2.0zM58.6 667.1h2.0v2.0h-2.0zM96.8 661.7h2.0v2.0h-2.0zM78.2 679.3h2.0v2.0h-2.0zM75.9 669.7h2.0v2.0h-2.0zM93.7 657.3h2.0v2.0h-2.0zM62.3 684.4h2.0v2.0h-2.0zM89.3 687.7h2.0v2.0h-2.0zM59.0 673.5h2.0v2.0h-2.0zM66.0 684.4h2.0v2.0h-2.0zM72.3 670.8h2.0v2.0h-2.0zM93.2 658.0h2.0v2.0h-2.0zM82.1 657.9h2.0v2.0h-2.0zM90.3 682.7h2.0v2.0h-2.0zM74.8 672.2h2.0v2.0h-2.0zM67.2 652.4h2.0v2.0h-2.0zM69.6 668.7h2.0v2.0h-2.0zM84.2 673.7h2.0v2.0h-2.0zM80.1 659.1h2.0v2.0h-2.0zM64.6 665.3h2.0v2.0h-2.0zM86.5 654.1h2.0v2.0h-2.0zM71.7 672.2h2.0v2.0h-2.0zM66.1 653.4h2.0v2.0h-2.0zM96.4 674.4h2.0v2.0h-2.0zM79.3 689.5h2.0v2.0h-2.0zM70.1 669.1h2.0v2.0h-2.0zM76.8 669.5h2.0v2.0h-2.0zM81.5 683.5h2.0v2.0h-2.0zM61.6 662.7h2.0v2.0h-2.0zM87.3 660.7h2.0v2.0h-2.0zM64.0 679.7h2.0v2.0h-2.0zM82.7 673.4h2.0v2.0h-2.0zM63.2 658.3h2.0v2.0h-2.0zM82.7 656.1h2.0v2.0h-2.0zM69.8 690.1h2.0v2.0h-2.0zM79.5 669.7h2.0v2.0h-2.0zM72.3 665.0h2.0v2.0h-2.0zM67.9 671.8h2.0v2.0h-2.0zM99.1 673.8h2.0v2.0h-2.0zM97.2 662.7h2.0v2.0h-2.0zM76.9 671.5h2.0v2.0h-2.0zM64.7 680.9h2.0v2.0h-2.0zM92.7 673.9h2.0v2.0h-2.0zM86.2 654.1h2.0v2.0h-2.0zM66.6 678.5h2.0v2.0h-2.0zM64.9 674.9h2.0v2.0h-2.0zM83.5 684.4h2.0v2.0h-2.0zM69.7 690.9h2.0v2.0h-2.0zM75.7 676.9h2.0v2.0h-2.0zM76.7 672.1h2.0v2.0h-2.0zM63.7 669.8h2.0v2.0h-2.0zM67.9 655.1h2.0v2.0h-2.0zM73.9 669.4h2.0v2.0h-2.0zM71.2 672.1h2.0v2.0h-2.0zM78.9 675.7h2.0v2.0h-2.0zM74.5 659.6h2.0v2.0h-2.0zM63.0 666.1h2.0v2.0h-2.0zM63.1 674.4h2.0v2.0h-2.0zM72.0 690.1h2.0v2.0h-2.0zM83.3 668.2h2.0v2.0h-2.0zM84.6 689.1h2.0v2.0h-2.0zM89.0 685.3h2.0v2.0h-2.0zM79.3 674.5h2.0v2.0h-2.0zM89.7 675.2h2.0v2.0h-2.0zM80.1 658.2h2.0v2.0h-2.0zM84.5 689.5h2.0v2.0h-2.0zM73.8 663.8h2.0v2.0h-2.0zM79.8 690.5h2.0v2.0h-2.0zM58.8 672.4h2.0v2.0h-2.0zM73.7 669.4h2.0v2.0h-2.0zM85.7 669.9h2.0v2.0h-2.0zM76.7 674.0h2.0v2.0h-2.0zM96.3 683.1h2.0v2.0h-2.0zM86.1 652.7h2.0v2.0h-2.0zM86.2 659.1h2.0v2.0h-2.0zM67.6 687.9h2.0v2.0h-2.0zM65.6 653.9h2.0v2.0h-2.0zM87.1 676.8h2.0v2.0h-2.0zM71.4 679.6h2.0v2.0h-2.0zM85.7 655.9h2.0v2.0h-2.0zM76.2 679.8h2.0v2.0h-2.0zM96.7 665.9h2.0v2.0h-2.0zM88.9 677.4h2.0v2.0h-2.0zM70.8 662.7h2.0v2.0h-2.0zM86.8 676.7h2.0v2.0h-2.0zM89.2 666.3h2.0v2.0h-2.0zM73.8 690.4h2.0v2.0h-2.0zM80.5 681.2h2.0v2.0h-2.0zM75.9 682.5h2.0v2.0h-2.0zM71.0 675.3h2.0v2.0h-2.0zM79.8 690.9h2.0v2.0h-2.0zM93.2 661.0h2.0v2.0h-2.0zM64.1 662.9h2.0v2.0h-2.0zM58.6 668.0h2.0v2.0h-2.0zM93.9 687.6h2.0v2.0h-2.0zM79.1 670.1h2.0v2.0h-2.0zM94.5 667.4h2.0v2.0h-2.0zM78.0 666.0h2.0v2.0h-2.0zM75.8 663.5h2.0v2.0h-2.0zM74.9 679.9h2.0v2.0h-2.0zM65.9 663.8h2.0v2.0h-2.0zM89.3 659.1h2.0v2.0h-2.0zM72.8 662.9h2.0v2.0h-2.0zM88.0 661.1h2.0v2.0h-2.0zM86.1 684.2h2.0v2.0h-2.0zM59.7 664.2h2.0v2.0h-2.0zM70.1 672.5h2.0v2.0h-2.0zM77.4 660.6h2.0v2.0h-2.0zM94.5 665.7h2.0v2.0h-2.0zM75.4 658.0h2.0v2.0h-2.0zM79.4 663.3h2.0v2.0h-2.0zM82.5 664.4h2.0v2.0h-2.0zM70.8 669.3h2.0v2.0h-2.0zM84.1 689.6h2.0v2.0h-2.0zM71.8 690.8h2.0v2.0h-2.0zM83.2 681.7h2.0v2.0h-2.0zM94.2 687.3h2.0v2.0h-2.0zM63.9 685.4h2.0v2.0h-2.0zM83.8 663.5h2.0v2.0h-2.0zM86.3 656.6h2.0v2.0h-2.0zM86.1 680.3h2.0v2.0h-2.0zM79.9 683.3h2.0v2.0h-2.0zM76.6 650.6h2.0v2.0h-2.0zM76.1 674.6h2.0v2.0h-2.0zM66.2 667.5h2.0v2.0h-2.0zM70.0 686.5h2.0v2.0h-2.0zM74.9 672.8h2.0v2.0h-2.0zM61.4 664.6h2.0v2.0h-2.0zM67.2 658.8h2.0v2.0h-2.0zM79.6 690.1h2.0v2.0h-2.0zM86.5 689.7h2.0v2.0h-2.0zM87.2 655.5h2.0v2.0h-2.0zM78.0 686.1h2.0v2.0h-2.0zM90.3 683.9h2.0v2.0h-2.0zM83.6 665.0h2.0v2.0h-2.0zM76.2 689.6h2.0v2.0h-2.0zM95.1 672.4h2.0v2.0h-2.0zM91.6 677.9h2.0v2.0h-2.0zM86.1 654.3h2.0v2.0h-2.0zM82.5 676.3h2.0v2.0h-2.0zM80.4 670.1h2.0v2.0h-2.0zM74.8 661.5h2.0v2.0h-2.0zM75.3 676.6h2.0v2.0h-2.0zM98.3 667.8h2.0v2.0h-2.0zM97.0 681.9h2.0v2.0h-2.0zM73.4 690.7h2.0v2.0h-2.0zM76.2 655.5h2.0v2.0h-2.0zM62.5 681.5h2.0v2.0h-2.0zM69.8 689.1h2.0v2.0h-2.0zM95.7 668.7h2.0v2.0h-2.0zM66.7 689.3h2.0v2.0h-2.0zM84.6 656.0h2.0v2.0h-2.0zM82.0 687.7h2.0v2.0h-2.0zM82.7 690.5h2.0v2.0h-2.0zM94.2 673.6h2.0v2.0h-2.0zM66.4 661.7h2.0v2.0h-2.0zM78.1 660.0h2.0v2.0h-2.0zM89.6 661.8h2.0v2.0h-2.0zM70.7 659.5h2.0v2.0h-2.0zM81.1 681.7h2.0v2.0h-2.0zM96.7 663.1h2.0v2.0h-2.0zM86.7 683.2h2.0v2.0h-2.0zM87.0 651.1h2.0v2.0h-2.0zM86.4 677.5h2.0v2.0h-2.0zM69.5 667.8h2.0v2.0h-2.0zM75.6 675.6h2.0v2.0h-2.0zM85.5 685.4h2.0v2.0h-2.0zM89.7 686.5h2.0v2.0h-2.0zM69.6 668.6h2.0v2.0h-2.0zM73.1 659.9h2.0v2.0h-2.0zM73.8 677.4h2.0v2.0h-2.0zM70.8 673.9h2.0v2.0h-2.0zM59.7 681.0h2.0v2.0h-2.0zM90.7 680.1h2.0v2.0h-2.0zM78.8 657.6h2.0v2.0h-2.0zM90.0 662.6h2.0v2.0h-2.0zM62.1 663.5h2.0v2.0h-2.0zM63.4 659.4h2.0v2.0h-2.0zM97.5 666.9h2.0v2.0h-2.0zM59.6 669.2h2.0v2.0h-2.0zM61.1 669.9h2.0v2.0h-2.0zM61.9 670.7h2.0v2.0h-2.0zM75.8 681.6h2.0v2.0h-2.0zM87.8 674.6h2.0v2.0h-2.0zM89.7 684.5h2.0v2.0h-2.0zM89.4 672.0h2.0v2.0h-2.0zM89.1 654.0h2.0v2.0h-2.0zM77.3 688.0h2.0v2.0h-2.0zM83.9 677.1h2.0v2.0h-2.0zM90.5 674.7h2.0v2.0h-2.0zM80.0 657.9h2.0v2.0h-2.0zM73.4 652.5h2.0v2.0h-2.0zM93.2 662.5h2.0v2.0h-2.0zM75.3 690.6h2.0v2.0h-2.0zM68.5 682.5h2.0v2.0h-2.0zM76.6 660.0h2.0v2.0h-2.0zM90.1 666.2h2.0v2.0h-2.0zM76.6 689.8h2.0v2.0h-2.0zM62.5 682.8h2.0v2.0h-2.0zM84.8 661.5h2.0v2.0h-2.0zM60.5 681.7h2.0v2.0h-2.0zM92.3 685.1h2.0v2.0h-2.0zM71.6 686.8h2.0v2.0h-2.0zM68.5 664.3h2.0v2.0h-2.0zM96.8 666.3h2.0v2.0h-2.0zM83.0 684.6h2.0v2.0h-2.0zM68.2 659.1h2.0v2.0h-2.0zM75.7 648.7h2.0v2.0h-2.0zM66.7 655.4h2.0v2.0h-2.0zM72.8 656.3h2.0v2.0h-2.0zM61.6 667.2h2.0v2.0h-2.0z" fill="#a2a2a2"/>
<path d="M95.8 661.5h2.0v2.0h-2.0zM86.0 665.1h2.0v2.0h-2.0zM58.2 671.4h2.0v2.0h-2.0zM84.9 680.4h2.0v2.0h-2.0zM69.7 674.1h2.0v2.0h-2.0zM84.7 689.1h2.0v2.0h-2.0zM79.3 658.8h2.0v2.0h-2.0zM83.2 675.5h2.0v2.0h-2.0zM93.3 688.4h2.0v2.0h-2.0zM76.9 663.0h2.0v2.0h-2.0zM69.4 683.5h2.0v2.0h-2.0zM90.1 656.7h2.0v2.0h-2.0zM58.4 678.1h2.0v2.0h-2.0zM61.1 678.8h2.0v2.0h-2.0zM74.1 666.3h2.0v2.0h-2.0zM63.9 657.8h2.0v2.0h-2.0zM70.7 655.7h2.0v2.0h-2.0zM73.2 674.7h2.0v2.0h-2.0zM88.7 665.0h2.0v2.0h-2.0zM69.2 663.6h2.0v2.0h-2.0zM70.0 666.8h2.0v2.0h-2.0zM85.5 680.1h2.0v2.0h-2.0zM82.3 690.3h2.0v2.0h-2.0zM75.9 689.7h2.0v2.0h-2.0zM75.0 683.7h2.0v2.0h-2.0zM95.0 674.2h2.0v2.0h-2.0zM80.2 682.1h2.0v2.0h-2.0zM89.0 690.8h2.0v2.0h-2.0zM61.2 663.9h2.0v2.0h-2.0zM84.7 650.4h2.0v2.0h-2.0zM88.7 662.8h2.0v2.0h-2.0zM78.0 656.5h2.0v2.0h-2.0zM97.0 676.8h2.0v2.0h-2.0zM79.4 662.2h2.0v2.0h-2.0zM82.1 661.3h2.0v2.0h-2.0zM83.6 678.3h2.0v2.0h-2.0zM96.5 674.9h2.0v2.0h-2.0zM95.2 684.7h2.0v2.0h-2.0zM83.4 671.6h2.0v2.0h-2.0zM72.4 674.3h2.0v2.0h-2.0zM78.9 690.9h2.0v2.0h-2.0zM87.3 665.5h2.0v2.0h-2.0zM79.3 680.8h2.0v2.0h-2.0zM84.1 652.6h2.0v2.0h-2.0zM69.1 680.2h2.0v2.0h-2.0zM65.0 672.4h2.0v2.0h-2.0zM79.4 690.6h2.0v2.0h-2.0zM71.6 655.7h2.0v2.0h-2.0zM84.6 690.1h2.0v2.0h-2.0zM66.0 677.0h2.0v2.0h-2.0zM61.6 663.1h2.0v2.0h-2.0zM83.1 657.8h2.0v2.0h-2.0zM92.4 666.1h2.0v2.0h-2.0zM80.9 690.2h2.0v2.0h-2.0zM84.8 654.6h2.0v2.0h-2.0zM86.2 668.6h2.0v2.0h-2.0zM70.7 673.9h2.0v2.0h-2.0zM86.4 690.8h2.0v2.0h-2.0zM92.0 689.0h2.0v2.0h-2.0zM85.9 675.0h2.0v2.0h-2.0zM70.4 680.8h2.0v2.0h-2.0zM72.0 675.8h2.0v2.0h-2.0zM57.8 673.4h2.0v2.0h-2.0zM71.4 676.4h2.0v2.0h-2.0zM69.6 690.5h2.0v2.0h-2.0zM84.0 651.8h2.0v2.0h-2.0zM76.5 689.1h2.0v2.0h-2.0zM96.1 674.1h2.0v2.0h-2.0zM64.8 672.1h2.0v2.0h-2.0zM82.9 690.0h2.0v2.0h-2.0zM74.7 689.4h2.0v2.0h-2.0zM91.3 664.3h2.0v2.0h-2.0zM82.5 690.0h2.0v2.0h-2.0zM74.3 664.8h2.0v2.0h-2.0zM84.6 677.7h2.0v2.0h-2.0zM87.1 659.2h2.0v2.0h-2.0zM83.3 657.6h2.0v2.0h-2.0zM86.0 668.7h2.0v2.0h-2.0zM59.8 679.3h2.0v2.0h-2.0zM67.2 673.8h2.0v2.0h-2.0zM69.3 671.5h2.0v2.0h-2.0zM73.1 665.0h2.0v2.0h-2.0zM71.0 651.0h2.0v2.0h-2.0zM91.8 677.2h2.0v2.0h-2.0zM81.7 649.2h2.0v2.0h-2.0zM97.5 664.0h2.0v2.0h-2.0zM82.2 659.4h2.0v2.0h-2.0zM66.7 658.2h2.0v2.0h-2.0zM91.3 675.1h2.0v2.0h-2.0zM78.0 689.2h2.0v2.0h-2.0zM88.8 675.3h2.0v2.0h-2.0zM61.6 671.9h2.0v2.0h-2.0zM82.3 659.3h2.0v2.0h-2.0zM83.2 671.2h2.0v2.0h-2.0zM95.6 680.5h2.0v2.0h-2.0zM78.4 672.4h2.0v2.0h-2.0zM84.9 673.7h2.0v2.0h-2.0zM72.8 686.7h2.0v2.0h-2.0zM59.3 675.2h2.0v2.0h-2.0zM62.0 661.9h2.0v2.0h-2.0zM84.9 650.1h2.0v2.0h-2.0zM77.7 687.5h2.0v2.0h-2.0zM61.5 659.9h2.0v2.0h-2.0zM88.7 656.6h2.0v2.0h-2.0zM62.1 665.3h2.0v2.0h-2.0zM71.7 672.8h2.0v2.0h-2.0zM75.4 689.3h2.0v2.0h-2.0zM70.6 690.1h2.0v2.0h-2.0zM85.4 650.9h2.0v2.0h-2.0zM71.6 663.1h2.0v2.0h-2.0zM59.0 674.8h2.0v2.0h-2.0zM75.4 655.7h2.0v2.0h-2.0zM68.8 667.0h2.0v2.0h-2.0zM58.1 668.1h2.0v2.0h-2.0zM91.1 667.1h2.0v2.0h-2.0zM69.2 685.7h2.0v2.0h-2.0zM79.3 667.3h2.0v2.0h-2.0zM61.8 658.1h2.0v2.0h-2.0zM89.3 690.6h2.0v2.0h-2.0zM63.2 656.8h2.0v2.0h-2.0zM92.8 671.1h2.0v2.0h-2.0zM97.7 665.3h2.0v2.0h-2.0zM78.1 670.3h2.0v2.0h-2.0zM85.4 653.6h2.0v2.0h-2.0zM84.7 664.2h2.0v2.0h-2.0zM63.1 678.3h2.0v2.0h-2.0zM82.2 671.6h2.0v2.0h-2.0zM64.3 683.2h2.0v2.0h-2.0zM74.3 687.1h2.0v2.0h-2.0zM87.6 675.9h2.0v2.0h-2.0zM69.9 679.9h2.0v2.0h-2.0zM75.4 669.7h2.0v2.0h-2.0zM71.7 675.2h2.0v2.0h-2.0zM59.6 673.8h2.0v2.0h-2.0zM96.1 672.7h2.0v2.0h-2.0zM73.4 662.2h2.0v2.0h-2.0zM85.3 655.4h2.0v2.0h-2.0zM73.0 674.8h2.0v2.0h-2.0zM87.8 660.4h2.0v2.0h-2.0zM62.7 685.4h2.0v2.0h-2.0zM78.5 653.5h2.0v2.0h-2.0zM84.6 689.2h2.0v2.0h-2.0zM77.6 687.6h2.0v2.0h-2.0zM94.6 669.6h2.0v2.0h-2.0zM88.1 658.5h2.0v2.0h-2.0zM62.7 685.2h2.0v2.0h-2.0zM62.6 658.3h2.0v2.0h-2.0zM64.7 687.6h2.0v2.0h-2.0zM80.4 685.1h2.0v2.0h-2.0zM85.8 656.3h2.0v2.0h-2.0zM94.9 677.9h2.0v2.0h-2.0zM91.7 654.9h2.0v2.0h-2.0zM72.4 665.8h2.0v2.0h-2.0zM73.4 664.5h2.0v2.0h-2.0zM79.7 671.3h2.0v2.0h-2.0zM68.4 656.9h2.0v2.0h-2.0zM71.0 660.9h2.0v2.0h-2.0zM68.8 663.6h2.0v2.0h-2.0zM77.5 668.9h2.0v2.0h-2.0zM65.3 656.8h2.0v2.0h-2.0zM93.4 679.1h2.0v2.0h-2.0zM68.1 651.9h2.0v2.0h-2.0zM69.5 670.4h2.0v2.0h-2.0zM69.5 690.4h2.0v2.0h-2.0zM77.9 651.3h2.0v2.0h-2.0zM64.4 670.6h2.0v2.0h-2.0zM72.3 649.8h2.0v2.0h-2.0zM72.9 689.5h2.0v2.0h-2.0zM67.4 664.6h2.0v2.0h-2.0zM66.9 655.0h2.0v2.0h-2.0zM94.9 675.5h2.0v2.0h-2.0zM63.0 682.8h2.0v2.0h-2.0zM58.3 667.9h2.0v2.0h-2.0zM66.8 659.1h2.0v2.0h-2.0zM79.6 649.0h2.0v2.0h-2.0zM74.7 649.4h2.0v2.0h-2.0zM89.3 669.0h2.0v2.0h-2.0zM74.7 683.7h2.0v2.0h-2.0zM88.0 653.9h2.0v2.0h-2.0zM88.5 685.2h2.0v2.0h-2.0zM64.8 677.5h2.0v2.0h-2.0zM94.3 660.2h2.0v2.0h-2.0zM66.7 681.9h2.0v2.0h-2.0zM67.0 678.1h2.0v2.0h-2.0zM75.6 690.9h2.0v2.0h-2.0zM73.6 655.2h2.0v2.0h-2.0zM79.7 690.6h2.0v2.0h-2.0zM82.5 674.4h2.0v2.0h-2.0zM96.0 663.6h2.0v2.0h-2.0zM94.9 659.5h2.0v2.0h-2.0zM96.6 669.2h2.0v2.0h-2.0zM86.0 659.6h2.0v2.0h-2.0zM83.3 689.0h2.0v2.0h-2.0zM83.5 673.0h2.0v2.0h-2.0zM67.7 667.7h2.0v2.0h-2.0zM83.9 654.7h2.0v2.0h-2.0zM90.2 668.9h2.0v2.0h-2.0zM72.7 666.4h2.0v2.0h-2.0zM64.5 657.3h2.0v2.0h-2.0zM58.3 671.0h2.0v2.0h-2.0zM59.8 662.1h2.0v2.0h-2.0zM88.2 673.8h2.0v2.0h-2.0zM72.3 674.6h2.0v2.0h-2.0zM69.1 652.2h2.0v2.0h-2.0zM90.7 672.0h2.0v2.0h-2.0zM89.6 681.2h2.0v2.0h-2.0zM64.0 688.9h2.0v2.0h-2.0zM87.4 690.5h2.0v2.0h-2.0zM89.0 665.3h2.0v2.0h-2.0zM69.8 690.9h2.0v2.0h-2.0zM85.8 662.3h2.0v2.0h-2.0zM85.0 676.7h2.0v2.0h-2.0zM77.4 656.0h2.0v2.0h-2.0zM94.0 687.9h2.0v2.0h-2.0zM59.0 668.0h2.0v2.0h-2.0zM83.2 649.3h2.0v2.0h-2.0zM74.4 661.2h2.0v2.0h-2.0zM81.2 689.0h2.0v2.0h-2.0zM72.7 676.2h2.0v2.0h-2.0zM78.4 677.2h2.0v2.0h-2.0zM70.0 686.7h2.0v2.0h-2.0zM77.0 667.2h2.0v2.0h-2.0zM61.6 670.3h2.0v2.0h-2.0zM83.7 689.2h2.0v2.0h-2.0zM73.0 650.6h2.0v2.0h-2.0zM80.9 687.9h2.0v2.0h-2.0zM74.7 652.7h2.0v2.0h-2.0zM65.3 666.4h2.0v2.0h-2.0zM94.7 682.1h2.0v2.0h-2.0zM78.7 690.8h2.0v2.0h-2.0zM81.7 666.5h2.0v2.0h-2.0zM79.9 689.9h2.0v2.0h-2.0zM81.0 654.4h2.0v2.0h-2.0zM61.5 675.5h2.0v2.0h-2.0zM65.2 660.8h2.0v2.0h-2.0zM68.5 684.3h2.0v2.0h-2.0zM75.7 661.2h2.0v2.0h-2.0zM67.0 665.0h2.0v2.0h-2.0zM73.0 667.4h2.0v2.0h-2.0zM95.9 675.3h2.0v2.0h-2.0zM77.5 681.1h2.0v2.0h-2.0zM86.2 687.2h2.0v2.0h-2.0zM87.5 679.9h2.0v2.0h-2.0zM82.4 672.3h2.0v2.0h-2.0zM82.0 689.9h2.0v2.0h-2.0zM67.4 665.9h2.0v2.0h-2.0zM68.1 687.9h2.0v2.0h-2.0zM95.2 684.7h2.0v2.0h-2.0zM89.6 689.4h2.0v2.0h-2.0zM81.4 656.6h2.0v2.0h-2.0zM84.6 668.3h2.0v2.0h-2.0zM88.4 668.2h2.0v2.0h-2.0zM90.5 671.8h2.0v2.0h-2.0zM73.6 689.6h2.0v2.0h-2.0zM93.9 685.3h2.0v2.0h-2.0zM85.7 682.5h2.0v2.0h-2.0zM62.2 674.8h2.0v2.0h-2.0zM68.7 654.5h2.0v2.0h-2.0zM76.2 686.0h2.0v2.0h-2.0zM80.8 663.8h2.0v2.0h-2.0zM80.1 671.7h2.0v2.0h-2.0zM90.0 669.7h2.0v2.0h-2.0zM85.8 659.9h2.0v2.0h-2.0zM80.7 682.8h2.0v2.0h-2.0zM72.6 656.2h2.0v2.0h-2.0zM71.0 656.2h2.0v2.0h-2.0zM84.5 659.2h2.0v2.0h-2.0zM66.2 662.0h2.0v2.0h-2.0zM81.8 663.8h2.0v2.0h-2.0zM79.6 685.2h2.0v2.0h-2.0zM80.9 675.9h2.0v2.0h-2.0zM75.9 650.9h2.0v2.0h-2.0zM78.1 658.9h2.0v2.0h-2.0zM81.8 676.8h2.0v2.0h-2.0zM94.3 670.9h2.0v2.0h-2.0zM63.1 664.9h2.0v2.0h-2.0zM67.0 659.2h2.0v2.0h-2.0zM59.5 680.6h2.0v2.0h-2.0zM64.4 664.2h2.0v2.0h-2.0zM83.8 675.5h2.0v2.0h-2.0zM79.0 677.9h2.0v2.0h-2.0zM72.1 680.6h2.0v2.0h-2.0zM81.7 682.1h2.0v2.0h-2.0zM95.5 664.1h2.0v2.0h-2.0zM60.1 673.4h2.0v2.0h-2.0zM93.2 668.9h2.0v2.0h-2.0zM63.8 657.0h2.0v2.0h-2.0zM82.4 690.8h2.0v2.0h-2.0zM94.1 659.0h2.0v2.0h-2.0zM83.2 675.5h2.0v2.0h-2.0zM83.6 675.6h2.0v2.0h-2.0zM77.6 690.8h2.0v2.0h-2.0zM76.8 651.2h2.0v2.0h-2.0zM62.6 667.7h2.0v2.0h-2.0zM87.3 668.0h2.0v2.0h-2.0zM93.6 677.7h2.0v2.0h-2.0zM68.1 667.1h2.0v2.0h-2.0zM86.8 657.3h2.0v2.0h-2.0zM77.3 651.2h2.0v2.0h-2.0zM80.4 682.5h2.0v2.0h-2.0zM84.0 683.4h2.0v2.0h-2.0zM77.8 677.2h2.0v2.0h-2.0zM90.2 679.2h2.0v2.0h-2.0zM59.8 668.6h2.0v2.0h-2.0zM76.4 656.3h2.0v2.0h-2.0zM92.0 666.1h2.0v2.0h-2.0zM88.6 689.4h2.0v2.0h-2.0zM73.7 666.4h2.0v2.0h-2.0zM84.8 679.5h2.0v2.0h-2.0zM90.1 670.3h2.0v2.0h-2.0zM68.1 671.6h2.0v2.0h-2.0zM68.9 689.3h2.0v2.0h-2.0zM73.0 650.3h2.0v2.0h-2.0zM92.6 689.3h2.0v2.0h-2.0zM79.2 665.9h2.0v2.0h-2.0zM93.7 673.7h2.0v2.0h-2.0zM67.1 675.3h2.0v2.0h-2.0zM76.5 690.4h2.0v2.0h-2.0zM66.5 684.6h2.0v2.0h-2.0zM92.5 678.2h2.0v2.0h-2.0zM71.7 688.9h2.0v2.0h-2.0zM62.6 679.4h2.0v2.0h-2.0zM95.9 681.7h2.0v2.0h-2.0zM98.9 671.5h2.0v2.0h-2.0zM80.3 689.8h2.0v2.0h-2.0zM68.5 689.6h2.0v2.0h-2.0zM82.3 673.2h2.0v2.0h-2.0zM59.3 677.5h2.0v2.0h-2.0zM85.0 657.9h2.0v2.0h-2.0zM85.3 652.5h2.0v2.0h-2.0zM63.7 685.0h2.0v2.0h-2.0zM82.3 682.7h2.0v2.0h-2.0zM70.5 687.2h2.0v2.0h-2.0zM81.8 652.2h2.0v2.0h-2.0zM77.2 648.6h2.0v2.0h-2.0zM73.7 670.7h2.0v2.0h-2.0zM91.4 660.6h2.0v2.0h-2.0zM87.6 672.3h2.0v2.0h-2.0zM82.5 685.1h2.0v2.0h-2.0zM71.2 670.7h2.0v2.0h-2.0zM70.9 674.4h2.0v2.0h-2.0zM62.0 675.0h2.0v2.0h-2.0zM82.3 651.8h2.0v2.0h-2.0zM83.3 686.7h2.0v2.0h-2.0zM62.9 682.0h2.0v2.0h-2.0zM72.9 668.8h2.0v2.0h-2.0zM83.4 690.1h2.0v2.0h-2.0zM79.2 654.7h2.0v2.0h-2.0zM76.8 687.3h2.0v2.0h-2.0zM72.9 670.6h2.0v2.0h-2.0z" fill="#bcbcbc"/>
<path d="M97.7 668.4h2.0v2.0h-2.0zM83.6 680.8h2.0v2.0h-2.0zM83.1 658.7h2.0v2.0h-2.0zM70.7 667.8h2.0v2.0h-2.0zM86.6 690.5h2.0v2.0h-2.0zM86.6 664.0h2.0v2.0h-2.0zM61.5 688.2h2.0v2.0h-2.0zM71.7 644.9h2.0v2.0h-2.0zM70.7 648.1h2.0v2.0h-2.0zM86.1 649.2h2.0v2.0h-2.0zM91.7 690.5h2.0v2.0h-2.0zM60.5 663.9h2.0v2.0h-2.0zM56.0 682.8h2.0v2.0h-2.0zM73.5 653.4h2.0v2.0h-2.0zM87.4 688.2h2.0v2.0h-2.0zM86.9 659.6h2.0v2.0h-2.0zM75.9 680.5h2.0v2.0h-2.0zM61.4 683.8h2.0v2.0h-2.0zM77.8 666.8h2.0v2.0h-2.0zM98.0 680.8h2.0v2.0h-2.0zM100.2 688.2h2.0v2.0h-2.0zM63.7 645.0h2.0v2.0h-2.0zM86.9 651.5h2.0v2.0h-2.0zM63.1 690.7h2.0v2.0h-2.0zM63.6 683.2h2.0v2.0h-2.0zM64.5 655.2h2.0v2.0h-2.0zM77.1 649.5h2.0v2.0h-2.0zM83.0 646.2h2.0v2.0h-2.0zM89.7 646.7h2.0v2.0h-2.0zM68.8 673.0h2.0v2.0h-2.0zM96.2 662.2h2.0v2.0h-2.0zM95.6 668.4h2.0v2.0h-2.0zM96.3 655.6h2.0v2.0h-2.0zM73.6 651.1h2.0v2.0h-2.0zM96.6 672.4h2.0v2.0h-2.0zM98.1 669.3h2.0v2.0h-2.0zM75.9 648.9h2.0v2.0h-2.0zM94.9 648.5h2.0v2.0h-2.0zM82.7 681.1h2.0v2.0h-2.0zM58.9 664.5h2.0v2.0h-2.0zM52.5 670.5h2.0v2.0h-2.0zM51.7 678.7h2.0v2.0h-2.0zM92.0 684.8h2.0v2.0h-2.0zM69.2 654.8h2.0v2.0h-2.0zM75.5 651.8h2.0v2.0h-2.0zM86.2 646.5h2.0v2.0h-2.0zM85.7 672.7h2.0v2.0h-2.0zM88.7 654.6h2.0v2.0h-2.0zM57.6 659.7h2.0v2.0h-2.0zM63.2 675.1h2.0v2.0h-2.0zM74.8 652.7h2.0v2.0h-2.0zM86.3 652.8h2.0v2.0h-2.0zM71.0 690.2h2.0v2.0h-2.0zM63.6 671.3h2.0v2.0h-2.0zM58.0 674.3h2.0v2.0h-2.0zM74.1 676.6h2.0v2.0h-2.0zM65.5 658.4h2.0v2.0h-2.0zM61.9 680.3h2.0v2.0h-2.0zM52.9 683.9h2.0v2.0h-2.0zM76.1 668.2h2.0v2.0h-2.0zM94.1 647.2h2.0v2.0h-2.0zM76.2 679.4h2.0v2.0h-2.0zM104.7 670.5h2.0v2.0h-2.0zM97.1 671.8h2.0v2.0h-2.0zM60.5 657.9h2.0v2.0h-2.0zM102.3 665.4h2.0v2.0h-2.0zM65.5 652.1h2.0v2.0h-2.0zM90.7 653.4h2.0v2.0h-2.0zM62.0 665.7h2.0v2.0h-2.0zM90.2 687.4h2.0v2.0h-2.0zM84.6 682.1h2.0v2.0h-2.0zM66.1 690.2h2.0v2.0h-2.0zM91.8 653.6h2.0v2.0h-2.0zM61.2 650.3h2.0v2.0h-2.0zM90.2 656.8h2.0v2.0h-2.0zM85.0 665.1h2.0v2.0h-2.0zM90.3 652.3h2.0v2.0h-2.0zM95.2 677.8h2.0v2.0h-2.0zM58.4 663.9h2.0v2.0h-2.0zM53.3 687.5h2.0v2.0h-2.0zM93.9 680.7h2.0v2.0h-2.0zM63.9 683.8h2.0v2.0h-2.0zM74.7 690.6h2.0v2.0h-2.0zM69.7 654.6h2.0v2.0h-2.0zM75.5 646.0h2.0v2.0h-2.0zM62.1 682.8h2.0v2.0h-2.0zM88.1 652.1h2.0v2.0h-2.0zM61.0 671.0h2.0v2.0h-2.0zM68.7 650.6h2.0v2.0h-2.0zM60.9 652.1h2.0v2.0h-2.0zM96.5 659.3h2.0v2.0h-2.0zM90.4 691.0h2.0v2.0h-2.0zM65.3 677.0h2.0v2.0h-2.0zM73.2 670.4h2.0v2.0h-2.0zM63.4 684.7h2.0v2.0h-2.0zM86.8 666.5h2.0v2.0h-2.0zM84.6 670.7h2.0v2.0h-2.0zM62.5 680.1h2.0v2.0h-2.0zM96.7 664.2h2.0v2.0h-2.0zM60.2 675.1h2.0v2.0h-2.0zM61.8 662.6h2.0v2.0h-2.0zM83.5 672.0h2.0v2.0h-2.0zM68.8 654.2h2.0v2.0h-2.0zM60.3 660.1h2.0v2.0h-2.0zM92.1 665.7h2.0v2.0h-2.0zM68.8 665.6h2.0v2.0h-2.0zM64.1 648.6h2.0v2.0h-2.0zM103.6 677.1h2.0v2.0h-2.0zM60.2 673.4h2.0v2.0h-2.0zM87.3 647.4h2.0v2.0h-2.0zM101.6 676.1h2.0v2.0h-2.0zM79.3 658.2h2.0v2.0h-2.0zM96.6 665.1h2.0v2.0h-2.0zM61.8 665.9h2.0v2.0h-2.0zM63.3 650.0h2.0v2.0h-2.0zM60.3 689.9h2.0v2.0h-2.0zM102.0 683.1h2.0v2.0h-2.0zM80.7 647.5h2.0v2.0h-2.0zM66.4 686.7h2.0v2.0h-2.0zM72.3 684.2h2.0v2.0h-2.0zM74.8 679.9h2.0v2.0h-2.0zM61.5 687.6h2.0v2.0h-2.0zM62.0 678.1h2.0v2.0h-2.0zM57.2 688.2h2.0v2.0h-2.0zM64.3 690.7h2.0v2.0h-2.0zM93.0 654.7h2.0v2.0h-2.0zM64.3 671.3h2.0v2.0h-2.0zM100.8 668.9h2.0v2.0h-2.0zM60.9 663.6h2.0v2.0h-2.0zM73.7 666.8h2.0v2.0h-2.0zM64.5 648.2h2.0v2.0h-2.0zM72.2 674.7h2.0v2.0h-2.0zM76.7 686.7h2.0v2.0h-2.0zM61.3 668.7h2.0v2.0h-2.0zM62.5 664.1h2.0v2.0h-2.0zM70.2 648.9h2.0v2.0h-2.0zM67.1 656.3h2.0v2.0h-2.0zM54.3 678.6h2.0v2.0h-2.0zM81.2 647.3h2.0v2.0h-2.0zM54.1 682.9h2.0v2.0h-2.0zM58.4 673.1h2.0v2.0h-2.0zM58.3 680.1h2.0v2.0h-2.0zM75.0 690.2h2.0v2.0h-2.0zM75.7 690.8h2.0v2.0h-2.0zM66.3 653.7h2.0v2.0h-2.0zM79.7 650.3h2.0v2.0h-2.0zM57.9 646.9h2.0v2.0h-2.0zM72.1 644.4h2.0v2.0h-2.0zM102.7 664.3h2.0v2.0h-2.0zM52.7 662.9h2.0v2.0h-2.0zM64.3 650.1h2.0v2.0h-2.0zM76.1 644.5h2.0v2.0h-2.0zM94.5 688.8h2.0v2.0h-2.0zM55.7 658.8h2.0v2.0h-2.0zM69.6 652.3h2.0v2.0h-2.0zM96.4 681.9h2.0v2.0h-2.0zM76.1 672.4h2.0v2.0h-2.0zM97.5 680.3h2.0v2.0h-2.0zM100.1 674.7h2.0v2.0h-2.0zM76.1 662.9h2.0v2.0h-2.0zM76.9 683.7h2.0v2.0h-2.0zM61.6 662.1h2.0v2.0h-2.0zM97.7 680.6h2.0v2.0h-2.0zM81.3 674.7h2.0v2.0h-2.0zM78.9 645.5h2.0v2.0h-2.0zM74.0 644.4h2.0v2.0h-2.0zM79.8 648.3h2.0v2.0h-2.0zM68.8 690.2h2.0v2.0h-2.0zM63.3 649.6h2.0v2.0h-2.0zM86.9 649.4h2.0v2.0h-2.0zM84.0 674.3h2.0v2.0h-2.0zM67.6 655.9h2.0v2.0h-2.0zM85.7 648.9h2.0v2.0h-2.0zM101.9 663.9h2.0v2.0h-2.0zM51.4 690.6h2.0v2.0h-2.0zM61.9 678.1h2.0v2.0h-2.0zM100.7 654.9h2.0v2.0h-2.0zM59.2 667.3h2.0v2.0h-2.0zM94.0 664.2h2.0v2.0h-2.0zM79.5 672.3h2.0v2.0h-2.0zM78.4 643.4h2.0v2.0h-2.0zM97.1 663.4h2.0v2.0h-2.0zM96.8 673.7h2.0v2.0h-2.0zM58.8 688.2h2.0v2.0h-2.0zM97.4 688.0h2.0v2.0h-2.0zM92.3 684.6h2.0v2.0h-2.0zM94.3 664.1h2.0v2.0h-2.0zM64.0 686.6h2.0v2.0h-2.0zM98.0 672.2h2.0v2.0h-2.0zM57.1 657.3h2.0v2.0h-2.0zM82.7 662.4h2.0v2.0h-2.0zM76.7 659.1h2.0v2.0h-2.0zM97.1 677.2h2.0v2.0h-2.0zM75.0 677.2h2.0v2.0h-2.0zM96.2 679.6h2.0v2.0h-2.0zM68.5 660.6h2.0v2.0h-2.0zM72.4 690.5h2.0v2.0h-2.0zM69.0 657.1h2.0v2.0h-2.0zM100.7 657.3h2.0v2.0h-2.0zM72.6 646.5h2.0v2.0h-2.0zM60.4 690.4h2.0v2.0h-2.0zM87.3 649.0h2.0v2.0h-2.0zM87.9 681.0h2.0v2.0h-2.0zM75.6 646.8h2.0v2.0h-2.0zM83.2 691.0h2.0v2.0h-2.0zM56.8 654.9h2.0v2.0h-2.0zM100.3 677.3h2.0v2.0h-2.0zM98.5 663.7h2.0v2.0h-2.0zM93.6 683.9h2.0v2.0h-2.0zM62.0 654.0h2.0v2.0h-2.0zM63.6 684.0h2.0v2.0h-2.0zM98.1 689.9h2.0v2.0h-2.0zM93.6 685.8h2.0v2.0h-2.0zM59.1 676.2h2.0v2.0h-2.0zM87.1 651.0h2.0v2.0h-2.0zM94.4 663.1h2.0v2.0h-2.0zM58.8 681.3h2.0v2.0h-2.0zM68.9 666.5h2.0v2.0h-2.0zM94.1 683.9h2.0v2.0h-2.0zM88.5 690.3h2.0v2.0h-2.0zM64.1 658.0h2.0v2.0h-2.0zM71.4 650.6h2.0v2.0h-2.0zM59.8 672.3h2.0v2.0h-2.0zM76.7 646.4h2.0v2.0h-2.0zM100.0 690.0h2.0v2.0h-2.0zM52.5 678.5h2.0v2.0h-2.0zM66.6 681.1h2.0v2.0h-2.0zM94.8 661.1h2.0v2.0h-2.0zM74.4 671.4h2.0v2.0h-2.0zM92.3 659.0h2.0v2.0h-2.0zM62.5 666.0h2.0v2.0h-2.0zM65.6 688.7h2.0v2.0h-2.0zM83.6 680.6h2.0v2.0h-2.0zM82.1 680.4h2.0v2.0h-2.0zM54.0 672.8h2.0v2.0h-2.0zM79.2 670.8h2.0v2.0h-2.0zM91.3 666.4h2.0v2.0h-2.0zM60.8 652.5h2.0v2.0h-2.0zM69.4 647.6h2.0v2.0h-2.0zM79.7 647.6h2.0v2.0h-2.0z" fill="#111"/>
<path d="M138.9 689.5h2.0v2.0h-2.0zM63.4 690.6h2.0v2.0h-2.0zM77.8 690.4h2.0v2.0h-2.0zM59.0 690.4h2.0v2.0h-2.0zM61.0 689.9h2.0v2.0h-2.0zM108.7 690.4h2.0v2.0h-2.0zM90.8 690.0h2.0v2.0h-2.0zM58.2 690.4h2.0v2.0h-2.0zM117.5 689.6h2.0v2.0h-2.0zM115.9 691.0h2.0v2.0h-2.0zM50.9 689.6h2.0v2.0h-2.0zM132.7 690.8h2.0v2.0h-2.0zM123.4 690.9h2.0v2.0h-2.0zM67.7 689.6h2.0v2.0h-2.0zM68.3 690.6h2.0v2.0h-2.0zM82.2 690.9h2.0v2.0h-2.0zM51.8 690.3h2.0v2.0h-2.0zM120.1 689.6h2.0v2.0h-2.0zM95.7 690.4h2.0v2.0h-2.0zM108.1 690.9h2.0v2.0h-2.0zM117.3 690.0h2.0v2.0h-2.0zM77.7 689.8h2.0v2.0h-2.0zM74.1 690.7h2.0v2.0h-2.0zM125.2 689.6h2.0v2.0h-2.0zM46.9 594.8h2.0v2.0h-2.0zM46.7 565.8h2.0v2.0h-2.0zM47.1 557.3h2.0v2.0h-2.0zM46.8 569.5h2.0v2.0h-2.0zM46.9 598.7h2.0v2.0h-2.0zM46.3 572.3h2.0v2.0h-2.0zM46.9 619.2h2.0v2.0h-2.0zM47.1 597.3h2.0v2.0h-2.0zM47.1 639.0h2.0v2.0h-2.0zM47.2 635.8h2.0v2.0h-2.0zM47.2 596.1h2.0v2.0h-2.0zM46.9 574.3h2.0v2.0h-2.0zM46.7 569.3h2.0v2.0h-2.0zM46.7 584.7h2.0v2.0h-2.0zM46.9 618.1h2.0v2.0h-2.0zM47.0 583.2h2.0v2.0h-2.0zM46.8 580.7h2.0v2.0h-2.0zM46.9 573.0h2.0v2.0h-2.0zM46.7 629.1h2.0v2.0h-2.0zM46.4 578.6h2.0v2.0h-2.0zM47.0 637.0h2.0v2.0h-2.0zM47.0 650.0h2.0v2.0h-2.0zM47.0 688.0h2.0v2.0h-2.0zM122.0 577.0h2.0v2.0h-2.0zM75.0 640.5h2.0v2.0h-2.0zM84.0 640.5h2.0v2.0h-2.0zM125.7 640.0h2.0v2.0h-2.0zM127.0 646.5h2.0v2.0h-2.0zM119.0 688.0h2.0v2.0h-2.0zM113.0 678.0h2.0v2.0h-2.0zM117.0 686.0h2.0v2.0h-2.0zM131.0 689.0h2.0v2.0h-2.0z" fill="#111"/>
<rect x="47.5" y="529.5" width="206.0" height="163.5" fill="none" stroke="#111" stroke-width="1.15"/>
<line x1="111.20" y1="529.50" x2="111.20" y2="693.00" stroke="#555" stroke-width="1.1"/>
<line x1="47.50" y1="642.10" x2="253.50" y2="642.10" stroke="#555" stroke-width="1.1"/>
<line x1="47.50" y1="693.00" x2="47.50" y2="695.00" stroke="#333" stroke-width="0.8"/>
<text transform="translate(47.13,700.70) scale(1.0331,1)" font-size="7.57" font-weight="bold" fill="#222" stroke="#222">10</text>
<text transform="translate(55.85,697.60) scale(0.8750,1)" font-size="4.29" fill="#444" stroke="#444">0</text>
<line x1="45.50" y1="693.00" x2="47.50" y2="693.00" stroke="#333" stroke-width="0.8"/>
<text transform="translate(44.30,693.67) rotate(-90) scale(0.8423,1)" font-size="9.29" font-weight="bold" fill="#222" stroke="#222">10</text>
<text transform="translate(40.60,684.81) rotate(-90) scale(0.9348,1)" font-size="5.57" fill="#444" stroke="#444">0</text>
<line x1="99.00" y1="693.00" x2="99.00" y2="695.00" stroke="#333" stroke-width="0.8"/>
<text transform="translate(98.63,700.70) scale(1.0331,1)" font-size="7.57" font-weight="bold" fill="#222" stroke="#222">10</text>
<text transform="translate(107.19,697.60) scale(0.9517,1)" font-size="4.35" fill="#444" stroke="#444">1</text>
<line x1="45.50" y1="652.12" x2="47.50" y2="652.12" stroke="#333" stroke-width="0.8"/>
<text transform="translate(44.30,652.79) rotate(-90) scale(0.8423,1)" font-size="9.29" font-weight="bold" fill="#222" stroke="#222">10</text>
<text transform="translate(40.60,644.16) rotate(-90) scale(1.0168,1)" font-size="5.65" fill="#444" stroke="#444">1</text>
<line x1="150.50" y1="693.00" x2="150.50" y2="695.00" stroke="#333" stroke-width="0.8"/>
<text transform="translate(150.13,700.70) scale(1.0331,1)" font-size="7.57" font-weight="bold" fill="#222" stroke="#222">10</text>
<text transform="translate(158.80,697.60) scale(0.9231,1)" font-size="4.29" fill="#444" stroke="#444">2</text>
<line x1="45.50" y1="611.25" x2="47.50" y2="611.25" stroke="#333" stroke-width="0.8"/>
<text transform="translate(44.30,611.92) rotate(-90) scale(0.8423,1)" font-size="9.29" font-weight="bold" fill="#222" stroke="#222">10</text>
<text transform="translate(40.60,603.12) rotate(-90) scale(0.9862,1)" font-size="5.57" fill="#444" stroke="#444">2</text>
<line x1="202.00" y1="693.00" x2="202.00" y2="695.00" stroke="#333" stroke-width="0.8"/>
<text transform="translate(201.63,700.70) scale(1.0331,1)" font-size="7.57" font-weight="bold" fill="#222" stroke="#222">10</text>
<text transform="translate(210.35,697.60) scale(0.8842,1)" font-size="4.29" fill="#444" stroke="#444">3</text>
<line x1="45.50" y1="570.38" x2="47.50" y2="570.38" stroke="#333" stroke-width="0.8"/>
<text transform="translate(44.30,571.04) rotate(-90) scale(0.8423,1)" font-size="9.29" font-weight="bold" fill="#222" stroke="#222">10</text>
<text transform="translate(40.60,562.19) rotate(-90) scale(0.9447,1)" font-size="5.57" fill="#444" stroke="#444">3</text>
<line x1="253.50" y1="693.00" x2="253.50" y2="695.00" stroke="#333" stroke-width="0.8"/>
<text transform="translate(253.13,700.70) scale(1.0331,1)" font-size="7.57" font-weight="bold" fill="#222" stroke="#222">10</text>
<text transform="translate(261.93,697.60) scale(0.8198,1)" font-size="4.35" fill="#444" stroke="#444">4</text>
<line x1="45.50" y1="529.50" x2="47.50" y2="529.50" stroke="#333" stroke-width="0.8"/>
<text transform="translate(44.20,528.93) rotate(-90) scale(0.9415,1)" font-size="7.57" font-weight="bold" fill="#222" stroke="#222">10</text>
<text transform="translate(145.13,707.60) scale(0.8324,1)" font-size="6.62" font-weight="bold" fill="#222" stroke="#222">fl1</text>
<line x1="217.80" y1="531.40" x2="217.80" y2="569.00" stroke="#222" stroke-width="1.2"/>
<line x1="189.00" y1="549.20" x2="247.80" y2="549.20" stroke="#222" stroke-width="1.2"/>
<text transform="translate(193.40,548.80) scale(0.9009,1)" font-size="16.69" fill="#000" stroke="#000">4%</text>
<text transform="translate(226.13,548.80) scale(0.9274,1)" font-size="16.57" fill="#000" stroke="#000">2%</text>
<text transform="translate(188.02,569.70) scale(0.9146,1)" font-size="16.57" fill="#000" stroke="#000">91%</text>
<text transform="translate(225.29,569.70) scale(0.9162,1)" font-size="16.57" fill="#000" stroke="#000">3%</text>
<path d="M316.1 576.1h2.0v2.0h-2.0zM317.4 568.6h2.0v2.0h-2.0zM319.3 574.2h2.0v2.0h-2.0zM312.3 573.5h2.0v2.0h-2.0zM324.5 574.7h2.0v2.0h-2.0zM326.9 575.3h2.0v2.0h-2.0zM333.1 576.0h2.0v2.0h-2.0zM314.4 579.0h2.0v2.0h-2.0zM322.5 569.4h2.0v2.0h-2.0zM320.5 565.5h2.0v2.0h-2.0zM328.5 579.4h2.0v2.0h-2.0zM321.4 578.2h2.0v2.0h-2.0zM331.1 576.5h2.0v2.0h-2.0zM331.1 576.7h2.0v2.0h-2.0zM314.2 575.0h2.0v2.0h-2.0zM324.5 579.8h2.0v2.0h-2.0zM326.0 582.1h2.0v2.0h-2.0zM322.5 579.1h2.0v2.0h-2.0zM311.8 578.3h2.0v2.0h-2.0zM323.2 581.7h2.0v2.0h-2.0zM327.7 576.8h2.0v2.0h-2.0zM330.3 567.7h2.0v2.0h-2.0zM326.3 579.2h2.0v2.0h-2.0zM321.3 565.5h2.0v2.0h-2.0zM331.9 570.7h2.0v2.0h-2.0zM314.2 574.9h2.0v2.0h-2.0zM325.7 571.9h2.0v2.0h-2.0zM321.8 574.7h2.0v2.0h-2.0zM321.9 579.0h2.0v2.0h-2.0zM318.7 570.4h2.0v2.0h-2.0zM321.8 571.4h2.0v2.0h-2.0zM320.1 570.7h2.0v2.0h-2.0zM315.8 574.5h2.0v2.0h-2.0zM315.4 577.0h2.0v2.0h-2.0zM323.7 570.1h2.0v2.0h-2.0zM316.3 577.7h2.0v2.0h-2.0z" fill="#bdbdbd"/>
<path d="M336.8 577.9h2.0v2.0h-2.0zM345.7 582.9h2.0v2.0h-2.0zM317.4 584.7h2.0v2.0h-2.0zM326.4 577.9h2.0v2.0h-2.0zM335.7 584.5h2.0v2.0h-2.0zM324.3 565.6h2.0v2.0h-2.0zM317.7 574.7h2.0v2.0h-2.0zM323.5 585.1h2.0v2.0h-2.0zM339.8 568.4h2.0v2.0h-2.0zM350.0 578.7h2.0v2.0h-2.0zM307.0 572.9h2.0v2.0h-2.0zM319.8 595.1h2.0v2.0h-2.0zM307.1 584.5h2.0v2.0h-2.0zM329.5 580.1h2.0v2.0h-2.0zM339.8 576.3h2.0v2.0h-2.0zM341.6 560.5h2.0v2.0h-2.0zM314.5 583.1h2.0v2.0h-2.0zM334.9 567.7h2.0v2.0h-2.0zM318.5 594.2h2.0v2.0h-2.0zM330.2 565.6h2.0v2.0h-2.0zM314.2 583.1h2.0v2.0h-2.0zM316.1 577.9h2.0v2.0h-2.0zM341.4 587.0h2.0v2.0h-2.0zM332.6 555.6h2.0v2.0h-2.0zM327.5 561.0h2.0v2.0h-2.0zM311.4 571.5h2.0v2.0h-2.0zM322.2 575.8h2.0v2.0h-2.0zM333.7 561.4h2.0v2.0h-2.0zM333.3 578.6h2.0v2.0h-2.0zM307.2 572.3h2.0v2.0h-2.0zM309.7 589.0h2.0v2.0h-2.0zM333.6 584.2h2.0v2.0h-2.0zM309.0 580.8h2.0v2.0h-2.0zM310.2 564.6h2.0v2.0h-2.0zM319.2 566.9h2.0v2.0h-2.0zM326.0 575.3h2.0v2.0h-2.0zM325.5 575.7h2.0v2.0h-2.0zM324.1 568.1h2.0v2.0h-2.0zM314.5 577.9h2.0v2.0h-2.0zM323.3 560.7h2.0v2.0h-2.0zM341.8 564.9h2.0v2.0h-2.0zM324.1 580.2h2.0v2.0h-2.0zM309.4 573.5h2.0v2.0h-2.0zM313.3 567.8h2.0v2.0h-2.0zM319.3 563.3h2.0v2.0h-2.0zM319.4 566.9h2.0v2.0h-2.0zM315.0 579.7h2.0v2.0h-2.0zM313.8 560.1h2.0v2.0h-2.0zM342.6 573.4h2.0v2.0h-2.0zM313.0 575.9h2.0v2.0h-2.0zM337.6 574.0h2.0v2.0h-2.0zM309.1 557.0h2.0v2.0h-2.0zM331.7 567.2h2.0v2.0h-2.0zM321.9 567.9h2.0v2.0h-2.0zM337.6 575.2h2.0v2.0h-2.0zM321.4 589.5h2.0v2.0h-2.0zM330.5 592.6h2.0v2.0h-2.0zM308.5 557.0h2.0v2.0h-2.0zM338.1 585.4h2.0v2.0h-2.0zM346.7 593.7h2.0v2.0h-2.0zM342.0 576.7h2.0v2.0h-2.0zM338.2 569.4h2.0v2.0h-2.0zM310.1 572.2h2.0v2.0h-2.0zM313.5 584.3h2.0v2.0h-2.0zM314.0 551.4h2.0v2.0h-2.0zM327.2 571.2h2.0v2.0h-2.0zM332.9 592.3h2.0v2.0h-2.0zM316.7 579.1h2.0v2.0h-2.0zM322.5 580.2h2.0v2.0h-2.0zM322.2 563.6h2.0v2.0h-2.0zM338.8 570.9h2.0v2.0h-2.0zM311.3 561.8h2.0v2.0h-2.0zM324.8 591.9h2.0v2.0h-2.0zM323.6 564.0h2.0v2.0h-2.0zM334.6 575.5h2.0v2.0h-2.0zM333.5 571.8h2.0v2.0h-2.0zM324.1 561.6h2.0v2.0h-2.0zM334.0 571.6h2.0v2.0h-2.0zM322.7 572.8h2.0v2.0h-2.0zM313.3 564.7h2.0v2.0h-2.0zM313.3 553.1h2.0v2.0h-2.0zM333.7 576.8h2.0v2.0h-2.0zM344.4 582.1h2.0v2.0h-2.0zM329.8 565.6h2.0v2.0h-2.0zM333.7 569.6h2.0v2.0h-2.0zM323.5 554.8h2.0v2.0h-2.0zM317.3 569.8h2.0v2.0h-2.0zM351.4 574.6h2.0v2.0h-2.0zM318.4 575.5h2.0v2.0h-2.0zM337.8 570.5h2.0v2.0h-2.0zM322.6 577.8h2.0v2.0h-2.0zM322.8 568.2h2.0v2.0h-2.0zM308.6 567.3h2.0v2.0h-2.0zM322.7 577.3h2.0v2.0h-2.0zM311.2 564.7h2.0v2.0h-2.0zM320.8 587.7h2.0v2.0h-2.0zM331.8 587.7h2.0v2.0h-2.0zM320.8 582.9h2.0v2.0h-2.0zM341.2 584.4h2.0v2.0h-2.0zM310.4 574.9h2.0v2.0h-2.0zM309.6 578.0h2.0v2.0h-2.0zM320.6 555.5h2.0v2.0h-2.0zM329.9 570.0h2.0v2.0h-2.0zM315.8 585.6h2.0v2.0h-2.0zM318.1 570.2h2.0v2.0h-2.0zM321.5 551.4h2.0v2.0h-2.0zM325.3 574.9h2.0v2.0h-2.0zM323.0 577.4h2.0v2.0h-2.0zM312.2 570.7h2.0v2.0h-2.0zM309.5 570.6h2.0v2.0h-2.0zM319.8 576.4h2.0v2.0h-2.0zM342.5 591.5h2.0v2.0h-2.0zM337.4 595.5h2.0v2.0h-2.0zM307.7 565.4h2.0v2.0h-2.0zM306.8 571.0h2.0v2.0h-2.0zM337.2 579.8h2.0v2.0h-2.0zM321.8 575.8h2.0v2.0h-2.0zM324.9 567.5h2.0v2.0h-2.0zM310.5 574.9h2.0v2.0h-2.0zM341.6 586.7h2.0v2.0h-2.0zM311.3 587.1h2.0v2.0h-2.0zM330.4 570.2h2.0v2.0h-2.0zM321.6 584.2h2.0v2.0h-2.0zM313.0 575.5h2.0v2.0h-2.0zM321.4 573.6h2.0v2.0h-2.0zM317.4 561.9h2.0v2.0h-2.0zM307.4 567.1h2.0v2.0h-2.0zM348.7 560.8h2.0v2.0h-2.0zM332.5 565.8h2.0v2.0h-2.0zM323.5 577.7h2.0v2.0h-2.0zM335.7 601.5h2.0v2.0h-2.0zM312.7 584.2h2.0v2.0h-2.0zM315.1 549.0h2.0v2.0h-2.0zM322.9 580.4h2.0v2.0h-2.0zM315.0 578.9h2.0v2.0h-2.0zM322.2 590.8h2.0v2.0h-2.0zM323.6 585.6h2.0v2.0h-2.0zM324.6 573.8h2.0v2.0h-2.0zM320.6 568.7h2.0v2.0h-2.0zM322.7 590.3h2.0v2.0h-2.0zM319.2 565.8h2.0v2.0h-2.0zM327.5 579.9h2.0v2.0h-2.0zM332.0 567.9h2.0v2.0h-2.0zM315.4 602.2h2.0v2.0h-2.0zM360.5 583.0h2.0v2.0h-2.0zM334.2 567.6h2.0v2.0h-2.0zM319.7 583.8h2.0v2.0h-2.0zM319.5 565.0h2.0v2.0h-2.0zM343.1 573.1h2.0v2.0h-2.0zM353.9 575.4h2.0v2.0h-2.0zM312.4 565.7h2.0v2.0h-2.0zM311.8 584.8h2.0v2.0h-2.0zM322.0 583.7h2.0v2.0h-2.0zM326.7 585.5h2.0v2.0h-2.0zM316.8 586.2h2.0v2.0h-2.0zM320.2 574.1h2.0v2.0h-2.0zM310.9 585.9h2.0v2.0h-2.0zM323.4 578.8h2.0v2.0h-2.0zM313.7 584.2h2.0v2.0h-2.0zM308.1 557.9h2.0v2.0h-2.0zM310.6 572.6h2.0v2.0h-2.0zM311.4 562.4h2.0v2.0h-2.0zM317.3 584.2h2.0v2.0h-2.0zM313.5 559.0h2.0v2.0h-2.0zM316.4 560.2h2.0v2.0h-2.0zM331.1 579.0h2.0v2.0h-2.0zM326.1 582.7h2.0v2.0h-2.0zM330.2 563.6h2.0v2.0h-2.0zM312.3 567.6h2.0v2.0h-2.0zM356.7 562.8h2.0v2.0h-2.0zM331.1 594.3h2.0v2.0h-2.0zM354.0 559.4h2.0v2.0h-2.0zM334.9 578.7h2.0v2.0h-2.0zM311.8 582.7h2.0v2.0h-2.0zM330.9 579.9h2.0v2.0h-2.0zM310.8 579.2h2.0v2.0h-2.0zM342.3 579.0h2.0v2.0h-2.0zM357.1 583.3h2.0v2.0h-2.0zM327.7 582.4h2.0v2.0h-2.0zM321.7 559.3h2.0v2.0h-2.0zM326.6 590.2h2.0v2.0h-2.0zM318.4 564.9h2.0v2.0h-2.0zM323.1 579.8h2.0v2.0h-2.0zM330.0 576.7h2.0v2.0h-2.0zM347.4 563.1h2.0v2.0h-2.0zM315.2 594.4h2.0v2.0h-2.0zM343.4 570.4h2.0v2.0h-2.0zM310.5 579.3h2.0v2.0h-2.0zM341.1 587.9h2.0v2.0h-2.0zM326.9 585.2h2.0v2.0h-2.0zM306.9 550.8h2.0v2.0h-2.0zM318.8 577.4h2.0v2.0h-2.0zM316.1 578.3h2.0v2.0h-2.0zM331.4 570.1h2.0v2.0h-2.0zM323.7 574.4h2.0v2.0h-2.0zM322.5 570.5h2.0v2.0h-2.0zM312.3 594.6h2.0v2.0h-2.0zM310.1 565.5h2.0v2.0h-2.0zM324.6 587.4h2.0v2.0h-2.0zM324.3 550.7h2.0v2.0h-2.0zM307.8 564.0h2.0v2.0h-2.0zM347.6 578.7h2.0v2.0h-2.0zM317.5 567.1h2.0v2.0h-2.0zM328.2 563.6h2.0v2.0h-2.0zM332.1 595.0h2.0v2.0h-2.0zM348.3 573.4h2.0v2.0h-2.0zM317.9 562.8h2.0v2.0h-2.0zM324.1 567.8h2.0v2.0h-2.0zM338.5 589.7h2.0v2.0h-2.0zM345.4 579.0h2.0v2.0h-2.0zM316.8 573.1h2.0v2.0h-2.0zM323.4 565.1h2.0v2.0h-2.0zM314.8 583.6h2.0v2.0h-2.0zM313.3 592.5h2.0v2.0h-2.0z" fill="#111"/>
<path d="M391.6 593.2h2.0v2.0h-2.0zM388.8 590.4h2.0v2.0h-2.0zM396.7 595.5h2.0v2.0h-2.0zM397.7 585.5h2.0v2.0h-2.0zM386.3 592.8h2.0v2.0h-2.0zM400.1 593.4h2.0v2.0h-2.0zM387.5 594.1h2.0v2.0h-2.0zM391.6 590.2h2.0v2.0h-2.0zM409.5 589.4h2.0v2.0h-2.0zM396.9 591.6h2.0v2.0h-2.0zM392.7 586.9h2.0v2.0h-2.0zM399.5 589.1h2.0v2.0h-2.0zM402.8 588.0h2.0v2.0h-2.0zM396.6 590.6h2.0v2.0h-2.0zM392.0 588.9h2.0v2.0h-2.0z" fill="#c2c2c2"/>
<path d="M406.1 590.5h2.0v2.0h-2.0zM422.4 582.8h2.0v2.0h-2.0zM408.3 578.1h2.0v2.0h-2.0zM387.2 581.6h2.0v2.0h-2.0zM388.4 569.5h2.0v2.0h-2.0zM391.6 594.3h2.0v2.0h-2.0zM389.2 596.1h2.0v2.0h-2.0zM425.8 607.2h2.0v2.0h-2.0zM379.9 589.8h2.0v2.0h-2.0zM429.8 581.2h2.0v2.0h-2.0zM384.8 589.2h2.0v2.0h-2.0zM381.1 587.0h2.0v2.0h-2.0zM401.1 609.4h2.0v2.0h-2.0zM427.0 596.0h2.0v2.0h-2.0zM405.6 586.7h2.0v2.0h-2.0zM384.6 591.5h2.0v2.0h-2.0zM422.9 606.4h2.0v2.0h-2.0zM394.0 596.9h2.0v2.0h-2.0zM400.3 601.7h2.0v2.0h-2.0zM412.2 615.4h2.0v2.0h-2.0zM370.0 583.4h2.0v2.0h-2.0zM386.8 599.6h2.0v2.0h-2.0zM390.0 578.8h2.0v2.0h-2.0zM422.4 587.2h2.0v2.0h-2.0zM384.1 590.7h2.0v2.0h-2.0zM413.4 578.7h2.0v2.0h-2.0zM415.9 596.5h2.0v2.0h-2.0zM382.8 584.6h2.0v2.0h-2.0zM418.4 597.3h2.0v2.0h-2.0zM404.1 576.5h2.0v2.0h-2.0zM398.2 588.8h2.0v2.0h-2.0zM425.6 584.0h2.0v2.0h-2.0zM405.1 582.2h2.0v2.0h-2.0zM381.6 600.7h2.0v2.0h-2.0zM420.8 600.8h2.0v2.0h-2.0zM392.6 596.4h2.0v2.0h-2.0zM385.5 589.5h2.0v2.0h-2.0zM417.8 596.9h2.0v2.0h-2.0zM403.7 594.2h2.0v2.0h-2.0zM411.0 600.7h2.0v2.0h-2.0zM405.3 590.3h2.0v2.0h-2.0zM373.6 589.2h2.0v2.0h-2.0zM375.9 590.5h2.0v2.0h-2.0zM390.4 598.0h2.0v2.0h-2.0zM409.9 594.3h2.0v2.0h-2.0zM389.9 590.0h2.0v2.0h-2.0zM385.2 588.2h2.0v2.0h-2.0zM399.2 597.1h2.0v2.0h-2.0zM430.3 573.3h2.0v2.0h-2.0zM406.0 574.8h2.0v2.0h-2.0zM388.7 587.7h2.0v2.0h-2.0zM391.8 574.4h2.0v2.0h-2.0zM404.1 592.1h2.0v2.0h-2.0zM405.7 599.8h2.0v2.0h-2.0zM392.0 588.9h2.0v2.0h-2.0zM395.5 590.2h2.0v2.0h-2.0zM388.0 564.7h2.0v2.0h-2.0zM382.4 592.2h2.0v2.0h-2.0zM407.1 590.4h2.0v2.0h-2.0zM391.6 581.7h2.0v2.0h-2.0zM394.6 596.9h2.0v2.0h-2.0zM420.0 576.5h2.0v2.0h-2.0zM443.2 588.4h2.0v2.0h-2.0zM408.6 595.3h2.0v2.0h-2.0zM372.7 595.6h2.0v2.0h-2.0zM427.1 581.6h2.0v2.0h-2.0zM398.3 599.9h2.0v2.0h-2.0zM401.6 593.4h2.0v2.0h-2.0zM421.0 585.4h2.0v2.0h-2.0zM408.0 606.6h2.0v2.0h-2.0zM396.1 587.2h2.0v2.0h-2.0zM431.2 579.2h2.0v2.0h-2.0zM415.4 587.1h2.0v2.0h-2.0zM405.0 590.8h2.0v2.0h-2.0zM377.3 593.2h2.0v2.0h-2.0zM404.5 579.8h2.0v2.0h-2.0zM418.7 596.2h2.0v2.0h-2.0zM391.8 570.9h2.0v2.0h-2.0zM394.4 597.1h2.0v2.0h-2.0zM408.6 579.6h2.0v2.0h-2.0zM373.6 589.2h2.0v2.0h-2.0zM385.6 605.1h2.0v2.0h-2.0zM399.2 599.6h2.0v2.0h-2.0zM408.6 598.2h2.0v2.0h-2.0zM394.3 604.4h2.0v2.0h-2.0zM422.6 570.3h2.0v2.0h-2.0zM395.0 596.8h2.0v2.0h-2.0zM397.3 595.2h2.0v2.0h-2.0zM423.1 584.4h2.0v2.0h-2.0zM416.3 597.6h2.0v2.0h-2.0zM374.9 589.6h2.0v2.0h-2.0zM385.0 600.5h2.0v2.0h-2.0zM421.4 576.4h2.0v2.0h-2.0zM397.9 589.7h2.0v2.0h-2.0zM376.0 591.3h2.0v2.0h-2.0zM387.9 580.0h2.0v2.0h-2.0zM397.8 592.7h2.0v2.0h-2.0zM418.7 597.6h2.0v2.0h-2.0zM394.9 586.7h2.0v2.0h-2.0zM442.4 583.8h2.0v2.0h-2.0zM392.5 591.9h2.0v2.0h-2.0zM422.9 583.9h2.0v2.0h-2.0zM390.2 579.4h2.0v2.0h-2.0zM383.1 595.3h2.0v2.0h-2.0zM387.2 582.8h2.0v2.0h-2.0zM387.3 581.8h2.0v2.0h-2.0zM388.4 592.0h2.0v2.0h-2.0zM389.9 592.3h2.0v2.0h-2.0zM426.1 584.8h2.0v2.0h-2.0zM397.0 571.5h2.0v2.0h-2.0zM381.0 602.6h2.0v2.0h-2.0zM382.8 591.9h2.0v2.0h-2.0zM397.0 577.8h2.0v2.0h-2.0zM404.8 590.6h2.0v2.0h-2.0zM392.6 575.1h2.0v2.0h-2.0zM386.0 583.5h2.0v2.0h-2.0zM413.4 587.4h2.0v2.0h-2.0zM390.6 595.5h2.0v2.0h-2.0zM386.2 602.7h2.0v2.0h-2.0zM447.2 582.1h2.0v2.0h-2.0zM423.7 588.9h2.0v2.0h-2.0zM399.0 590.8h2.0v2.0h-2.0zM395.6 593.2h2.0v2.0h-2.0zM397.2 578.7h2.0v2.0h-2.0zM383.6 593.2h2.0v2.0h-2.0zM424.0 576.6h2.0v2.0h-2.0zM442.6 600.3h2.0v2.0h-2.0zM403.3 591.7h2.0v2.0h-2.0zM444.7 595.0h2.0v2.0h-2.0zM399.8 581.0h2.0v2.0h-2.0zM370.6 584.6h2.0v2.0h-2.0zM413.5 596.0h2.0v2.0h-2.0zM409.3 599.4h2.0v2.0h-2.0zM405.2 593.9h2.0v2.0h-2.0zM388.0 605.7h2.0v2.0h-2.0zM400.0 585.5h2.0v2.0h-2.0zM398.2 581.4h2.0v2.0h-2.0zM425.0 601.2h2.0v2.0h-2.0zM419.3 582.8h2.0v2.0h-2.0zM391.9 590.6h2.0v2.0h-2.0zM384.3 604.8h2.0v2.0h-2.0zM409.1 583.3h2.0v2.0h-2.0zM412.2 586.4h2.0v2.0h-2.0zM379.3 603.3h2.0v2.0h-2.0zM403.9 607.1h2.0v2.0h-2.0zM398.3 594.6h2.0v2.0h-2.0zM389.2 606.1h2.0v2.0h-2.0zM413.4 587.6h2.0v2.0h-2.0zM385.0 595.9h2.0v2.0h-2.0zM401.1 599.1h2.0v2.0h-2.0zM385.9 612.1h2.0v2.0h-2.0zM410.4 614.2h2.0v2.0h-2.0zM414.7 592.5h2.0v2.0h-2.0zM399.6 597.6h2.0v2.0h-2.0zM378.6 598.6h2.0v2.0h-2.0zM397.8 585.7h2.0v2.0h-2.0zM387.7 587.0h2.0v2.0h-2.0zM419.7 589.1h2.0v2.0h-2.0zM430.1 580.8h2.0v2.0h-2.0zM409.1 590.9h2.0v2.0h-2.0zM396.2 595.5h2.0v2.0h-2.0zM399.4 580.4h2.0v2.0h-2.0zM438.3 582.9h2.0v2.0h-2.0zM397.0 588.5h2.0v2.0h-2.0zM381.7 585.5h2.0v2.0h-2.0zM426.3 584.2h2.0v2.0h-2.0zM427.8 592.6h2.0v2.0h-2.0zM376.6 579.9h2.0v2.0h-2.0zM386.5 594.5h2.0v2.0h-2.0zM409.5 588.5h2.0v2.0h-2.0zM459.2 584.4h2.0v2.0h-2.0zM403.4 595.7h2.0v2.0h-2.0zM389.2 591.4h2.0v2.0h-2.0zM389.2 576.7h2.0v2.0h-2.0zM406.3 582.8h2.0v2.0h-2.0zM413.0 581.8h2.0v2.0h-2.0zM421.1 590.8h2.0v2.0h-2.0zM385.3 596.9h2.0v2.0h-2.0zM397.2 592.7h2.0v2.0h-2.0zM406.2 577.8h2.0v2.0h-2.0zM386.9 598.5h2.0v2.0h-2.0zM414.5 596.1h2.0v2.0h-2.0zM411.0 599.4h2.0v2.0h-2.0zM394.0 600.7h2.0v2.0h-2.0zM375.8 582.5h2.0v2.0h-2.0z" fill="#111"/>
<path d="M391.6 593.2h2.0v2.0h-2.0zM388.8 590.4h2.0v2.0h-2.0zM396.7 595.5h2.0v2.0h-2.0zM397.7 585.5h2.0v2.0h-2.0zM386.3 592.8h2.0v2.0h-2.0zM400.1 593.4h2.0v2.0h-2.0zM387.5 594.1h2.0v2.0h-2.0zM391.6 590.2h2.0v2.0h-2.0zM409.5 589.4h2.0v2.0h-2.0zM396.9 591.6h2.0v2.0h-2.0zM392.7 586.9h2.0v2.0h-2.0zM399.5 589.1h2.0v2.0h-2.0zM402.8 588.0h2.0v2.0h-2.0zM396.6 590.6h2.0v2.0h-2.0zM392.0 588.9h2.0v2.0h-2.0z" fill="#c2c2c2"/>
<path d="M393.2 573.4h2.0v2.0h-2.0zM402.1 572.8h2.0v2.0h-2.0zM432.5 578.5h2.0v2.0h-2.0zM405.9 550.9h2.0v2.0h-2.0zM410.1 570.2h2.0v2.0h-2.0zM399.0 571.2h2.0v2.0h-2.0zM379.8 577.1h2.0v2.0h-2.0zM406.4 556.9h2.0v2.0h-2.0zM402.4 574.9h2.0v2.0h-2.0zM404.2 567.3h2.0v2.0h-2.0zM425.2 569.6h2.0v2.0h-2.0zM399.4 569.7h2.0v2.0h-2.0zM400.0 563.8h2.0v2.0h-2.0zM394.4 575.1h2.0v2.0h-2.0zM418.5 569.7h2.0v2.0h-2.0zM375.8 569.5h2.0v2.0h-2.0zM420.1 577.0h2.0v2.0h-2.0zM378.7 575.2h2.0v2.0h-2.0zM418.4 575.0h2.0v2.0h-2.0zM388.7 561.1h2.0v2.0h-2.0zM441.5 569.6h2.0v2.0h-2.0zM433.8 567.9h2.0v2.0h-2.0zM407.4 565.5h2.0v2.0h-2.0zM425.2 563.9h2.0v2.0h-2.0zM406.7 576.7h2.0v2.0h-2.0z" fill="#111"/>
<path d="M378.7 636.6h2.0v2.0h-2.0zM381.9 627.6h2.0v2.0h-2.0zM380.1 634.7h2.0v2.0h-2.0zM383.0 619.0h2.0v2.0h-2.0zM381.0 640.5h2.0v2.0h-2.0zM379.9 649.0h2.0v2.0h-2.0zM379.1 655.6h2.0v2.0h-2.0zM375.2 656.9h2.0v2.0h-2.0zM387.8 641.4h2.0v2.0h-2.0zM378.2 617.1h2.0v2.0h-2.0zM383.1 626.4h2.0v2.0h-2.0zM389.1 657.3h2.0v2.0h-2.0zM389.2 659.5h2.0v2.0h-2.0zM376.4 626.6h2.0v2.0h-2.0zM379.2 617.3h2.0v2.0h-2.0zM382.7 661.8h2.0v2.0h-2.0zM388.9 635.3h2.0v2.0h-2.0zM376.1 629.3h2.0v2.0h-2.0zM376.7 628.3h2.0v2.0h-2.0zM385.4 649.8h2.0v2.0h-2.0zM376.2 642.7h2.0v2.0h-2.0zM385.9 634.4h2.0v2.0h-2.0zM383.8 624.9h2.0v2.0h-2.0zM383.1 629.8h2.0v2.0h-2.0zM385.3 636.2h2.0v2.0h-2.0zM380.5 649.8h2.0v2.0h-2.0zM386.2 620.6h2.0v2.0h-2.0zM378.7 620.6h2.0v2.0h-2.0z" fill="#bdbdbd"/>
<path d="M371.7 631.0h2.0v2.0h-2.0zM389.8 658.7h2.0v2.0h-2.0zM376.4 649.0h2.0v2.0h-2.0zM377.1 656.6h2.0v2.0h-2.0zM384.0 620.5h2.0v2.0h-2.0zM373.7 651.4h2.0v2.0h-2.0zM383.7 666.4h2.0v2.0h-2.0zM386.1 658.0h2.0v2.0h-2.0zM375.0 617.7h2.0v2.0h-2.0zM375.1 619.9h2.0v2.0h-2.0zM386.5 656.5h2.0v2.0h-2.0zM384.4 631.0h2.0v2.0h-2.0zM379.6 621.8h2.0v2.0h-2.0zM377.3 623.2h2.0v2.0h-2.0zM383.8 644.3h2.0v2.0h-2.0zM384.9 647.3h2.0v2.0h-2.0zM392.8 633.6h2.0v2.0h-2.0zM386.5 664.8h2.0v2.0h-2.0zM380.5 640.2h2.0v2.0h-2.0zM390.3 640.4h2.0v2.0h-2.0zM375.8 629.7h2.0v2.0h-2.0zM374.9 638.4h2.0v2.0h-2.0zM381.7 620.5h2.0v2.0h-2.0zM385.0 622.1h2.0v2.0h-2.0zM374.8 621.9h2.0v2.0h-2.0zM373.7 641.8h2.0v2.0h-2.0zM380.2 649.9h2.0v2.0h-2.0zM377.5 637.2h2.0v2.0h-2.0zM380.5 663.0h2.0v2.0h-2.0zM391.6 636.1h2.0v2.0h-2.0zM383.4 648.3h2.0v2.0h-2.0zM377.4 639.3h2.0v2.0h-2.0zM380.2 646.9h2.0v2.0h-2.0zM379.6 662.4h2.0v2.0h-2.0zM374.5 652.4h2.0v2.0h-2.0zM378.0 655.9h2.0v2.0h-2.0zM374.5 655.5h2.0v2.0h-2.0zM373.9 632.7h2.0v2.0h-2.0zM380.3 648.2h2.0v2.0h-2.0zM381.2 650.5h2.0v2.0h-2.0zM385.0 625.4h2.0v2.0h-2.0zM390.1 617.0h2.0v2.0h-2.0zM389.6 659.0h2.0v2.0h-2.0zM385.0 661.0h2.0v2.0h-2.0zM379.9 641.7h2.0v2.0h-2.0zM372.1 626.9h2.0v2.0h-2.0zM373.8 664.7h2.0v2.0h-2.0zM377.6 621.4h2.0v2.0h-2.0zM380.5 629.2h2.0v2.0h-2.0zM381.0 648.3h2.0v2.0h-2.0zM377.2 629.9h2.0v2.0h-2.0zM379.9 641.3h2.0v2.0h-2.0zM375.8 624.2h2.0v2.0h-2.0zM375.1 655.0h2.0v2.0h-2.0zM383.6 635.9h2.0v2.0h-2.0zM385.5 619.2h2.0v2.0h-2.0zM377.7 663.0h2.0v2.0h-2.0zM381.9 628.7h2.0v2.0h-2.0zM376.8 634.5h2.0v2.0h-2.0zM380.7 636.0h2.0v2.0h-2.0zM377.4 665.9h2.0v2.0h-2.0zM371.4 634.0h2.0v2.0h-2.0zM380.5 643.3h2.0v2.0h-2.0zM383.5 666.1h2.0v2.0h-2.0zM379.2 625.8h2.0v2.0h-2.0zM382.4 641.8h2.0v2.0h-2.0zM380.2 648.3h2.0v2.0h-2.0zM383.5 651.3h2.0v2.0h-2.0zM384.5 617.1h2.0v2.0h-2.0zM370.3 634.9h2.0v2.0h-2.0zM382.8 642.2h2.0v2.0h-2.0zM383.4 655.1h2.0v2.0h-2.0zM378.5 650.1h2.0v2.0h-2.0zM382.2 627.6h2.0v2.0h-2.0zM379.5 634.9h2.0v2.0h-2.0zM379.1 656.9h2.0v2.0h-2.0zM370.5 658.0h2.0v2.0h-2.0zM382.5 632.8h2.0v2.0h-2.0zM380.8 617.2h2.0v2.0h-2.0zM390.0 651.2h2.0v2.0h-2.0zM380.9 641.0h2.0v2.0h-2.0zM374.2 653.0h2.0v2.0h-2.0zM374.7 644.1h2.0v2.0h-2.0zM376.9 651.6h2.0v2.0h-2.0zM382.1 639.2h2.0v2.0h-2.0zM385.5 663.8h2.0v2.0h-2.0zM378.3 653.3h2.0v2.0h-2.0zM384.7 649.4h2.0v2.0h-2.0zM380.0 659.3h2.0v2.0h-2.0zM379.0 649.3h2.0v2.0h-2.0zM383.1 661.9h2.0v2.0h-2.0zM378.4 649.4h2.0v2.0h-2.0zM383.6 659.4h2.0v2.0h-2.0zM376.3 637.2h2.0v2.0h-2.0zM385.7 636.9h2.0v2.0h-2.0zM379.8 643.1h2.0v2.0h-2.0zM389.1 640.2h2.0v2.0h-2.0zM381.0 656.9h2.0v2.0h-2.0zM386.4 638.1h2.0v2.0h-2.0zM383.5 654.9h2.0v2.0h-2.0zM381.5 637.6h2.0v2.0h-2.0zM373.3 638.3h2.0v2.0h-2.0zM371.8 629.9h2.0v2.0h-2.0zM387.1 651.5h2.0v2.0h-2.0zM374.2 666.5h2.0v2.0h-2.0zM382.2 663.7h2.0v2.0h-2.0zM381.3 617.4h2.0v2.0h-2.0zM376.4 637.5h2.0v2.0h-2.0zM385.0 627.2h2.0v2.0h-2.0zM374.8 649.5h2.0v2.0h-2.0zM389.2 661.5h2.0v2.0h-2.0zM373.7 666.0h2.0v2.0h-2.0z" fill="#111"/>
<path d="M391.7 688.7h2.0v2.0h-2.0zM394.6 675.1h2.0v2.0h-2.0zM396.2 682.6h2.0v2.0h-2.0zM389.0 685.4h2.0v2.0h-2.0zM385.0 685.3h2.0v2.0h-2.0zM378.8 676.3h2.0v2.0h-2.0zM383.7 672.0h2.0v2.0h-2.0zM377.2 670.1h2.0v2.0h-2.0zM393.4 675.2h2.0v2.0h-2.0zM372.4 684.1h2.0v2.0h-2.0zM384.2 674.2h2.0v2.0h-2.0zM383.5 673.7h2.0v2.0h-2.0zM379.4 673.7h2.0v2.0h-2.0zM378.3 678.1h2.0v2.0h-2.0zM377.6 668.1h2.0v2.0h-2.0zM384.0 682.9h2.0v2.0h-2.0zM385.4 665.8h2.0v2.0h-2.0zM378.7 682.4h2.0v2.0h-2.0zM393.0 672.0h2.0v2.0h-2.0zM381.5 680.2h2.0v2.0h-2.0zM370.3 674.6h2.0v2.0h-2.0zM395.4 680.9h2.0v2.0h-2.0zM381.1 667.4h2.0v2.0h-2.0zM387.6 680.6h2.0v2.0h-2.0zM385.4 685.4h2.0v2.0h-2.0zM390.0 689.4h2.0v2.0h-2.0zM369.9 679.5h2.0v2.0h-2.0zM376.3 672.4h2.0v2.0h-2.0zM390.3 666.7h2.0v2.0h-2.0zM382.0 669.1h2.0v2.0h-2.0zM388.9 669.4h2.0v2.0h-2.0zM382.2 684.7h2.0v2.0h-2.0zM398.8 686.8h2.0v2.0h-2.0zM386.8 689.8h2.0v2.0h-2.0zM397.8 677.7h2.0v2.0h-2.0zM392.9 668.7h2.0v2.0h-2.0zM384.9 685.7h2.0v2.0h-2.0zM384.3 666.4h2.0v2.0h-2.0zM385.4 674.8h2.0v2.0h-2.0zM399.1 684.9h2.0v2.0h-2.0zM399.3 673.7h2.0v2.0h-2.0zM395.8 690.2h2.0v2.0h-2.0zM383.5 671.3h2.0v2.0h-2.0zM385.4 678.4h2.0v2.0h-2.0zM385.6 687.0h2.0v2.0h-2.0zM398.2 681.6h2.0v2.0h-2.0zM396.8 684.0h2.0v2.0h-2.0zM402.9 679.5h2.0v2.0h-2.0zM377.7 690.6h2.0v2.0h-2.0zM391.8 684.1h2.0v2.0h-2.0zM384.8 686.1h2.0v2.0h-2.0zM378.8 668.8h2.0v2.0h-2.0zM382.5 673.4h2.0v2.0h-2.0zM393.8 669.4h2.0v2.0h-2.0zM389.6 683.0h2.0v2.0h-2.0zM391.9 682.9h2.0v2.0h-2.0zM385.9 671.4h2.0v2.0h-2.0zM393.3 667.3h2.0v2.0h-2.0zM376.1 673.3h2.0v2.0h-2.0zM383.1 687.3h2.0v2.0h-2.0zM391.4 678.5h2.0v2.0h-2.0zM394.2 678.5h2.0v2.0h-2.0zM371.2 685.9h2.0v2.0h-2.0zM386.6 679.6h2.0v2.0h-2.0zM389.5 674.6h2.0v2.0h-2.0zM378.6 684.6h2.0v2.0h-2.0zM390.0 682.3h2.0v2.0h-2.0zM394.8 671.4h2.0v2.0h-2.0zM390.8 678.3h2.0v2.0h-2.0zM388.6 684.0h2.0v2.0h-2.0zM371.9 683.2h2.0v2.0h-2.0zM375.2 679.0h2.0v2.0h-2.0zM397.2 681.0h2.0v2.0h-2.0zM375.7 669.5h2.0v2.0h-2.0zM375.7 681.7h2.0v2.0h-2.0zM381.3 674.2h2.0v2.0h-2.0zM388.3 680.4h2.0v2.0h-2.0zM390.0 690.6h2.0v2.0h-2.0zM381.1 679.1h2.0v2.0h-2.0zM379.2 687.4h2.0v2.0h-2.0zM390.1 690.1h2.0v2.0h-2.0zM390.9 681.8h2.0v2.0h-2.0zM387.2 681.5h2.0v2.0h-2.0zM376.8 677.2h2.0v2.0h-2.0zM388.9 674.3h2.0v2.0h-2.0zM396.4 674.1h2.0v2.0h-2.0zM396.4 676.5h2.0v2.0h-2.0zM393.8 687.5h2.0v2.0h-2.0zM393.0 684.0h2.0v2.0h-2.0zM386.7 689.8h2.0v2.0h-2.0zM390.0 684.8h2.0v2.0h-2.0zM384.9 689.9h2.0v2.0h-2.0zM374.3 687.0h2.0v2.0h-2.0zM379.9 667.2h2.0v2.0h-2.0zM381.6 669.0h2.0v2.0h-2.0zM401.6 680.4h2.0v2.0h-2.0zM385.5 676.1h2.0v2.0h-2.0zM374.9 669.9h2.0v2.0h-2.0zM396.0 684.7h2.0v2.0h-2.0zM378.3 681.9h2.0v2.0h-2.0zM382.5 687.6h2.0v2.0h-2.0zM383.9 690.8h2.0v2.0h-2.0zM401.8 674.8h2.0v2.0h-2.0zM390.2 686.4h2.0v2.0h-2.0zM385.6 685.7h2.0v2.0h-2.0zM387.9 675.8h2.0v2.0h-2.0zM386.8 682.1h2.0v2.0h-2.0zM385.8 680.0h2.0v2.0h-2.0zM375.3 669.3h2.0v2.0h-2.0zM381.0 680.3h2.0v2.0h-2.0zM389.2 672.1h2.0v2.0h-2.0zM384.1 669.2h2.0v2.0h-2.0zM375.7 689.9h2.0v2.0h-2.0zM399.9 673.2h2.0v2.0h-2.0zM372.8 674.9h2.0v2.0h-2.0zM388.2 676.6h2.0v2.0h-2.0zM383.5 683.9h2.0v2.0h-2.0zM376.6 687.1h2.0v2.0h-2.0zM371.3 679.8h2.0v2.0h-2.0zM396.2 675.0h2.0v2.0h-2.0zM373.7 682.6h2.0v2.0h-2.0zM401.2 677.1h2.0v2.0h-2.0zM390.8 665.5h2.0v2.0h-2.0zM401.9 674.6h2.0v2.0h-2.0zM376.5 690.8h2.0v2.0h-2.0zM376.4 680.0h2.0v2.0h-2.0zM381.4 668.9h2.0v2.0h-2.0zM397.1 670.7h2.0v2.0h-2.0zM370.4 679.0h2.0v2.0h-2.0zM382.8 678.3h2.0v2.0h-2.0zM381.0 683.1h2.0v2.0h-2.0zM395.3 671.3h2.0v2.0h-2.0zM383.3 672.8h2.0v2.0h-2.0zM381.4 667.7h2.0v2.0h-2.0zM393.4 673.1h2.0v2.0h-2.0zM371.8 684.9h2.0v2.0h-2.0zM379.3 690.4h2.0v2.0h-2.0zM374.9 682.7h2.0v2.0h-2.0zM381.6 686.8h2.0v2.0h-2.0zM380.1 681.6h2.0v2.0h-2.0zM395.7 677.7h2.0v2.0h-2.0zM388.5 690.7h2.0v2.0h-2.0zM384.1 689.4h2.0v2.0h-2.0zM378.2 688.2h2.0v2.0h-2.0zM391.9 684.3h2.0v2.0h-2.0zM386.3 685.1h2.0v2.0h-2.0zM387.0 687.7h2.0v2.0h-2.0zM385.8 679.6h2.0v2.0h-2.0zM401.7 684.1h2.0v2.0h-2.0zM381.2 689.3h2.0v2.0h-2.0zM394.2 689.7h2.0v2.0h-2.0zM399.1 676.3h2.0v2.0h-2.0zM371.7 677.8h2.0v2.0h-2.0zM387.2 679.4h2.0v2.0h-2.0zM396.9 683.2h2.0v2.0h-2.0zM381.5 667.3h2.0v2.0h-2.0zM383.0 678.8h2.0v2.0h-2.0zM387.6 671.4h2.0v2.0h-2.0zM400.2 681.8h2.0v2.0h-2.0zM402.6 679.0h2.0v2.0h-2.0zM383.7 689.7h2.0v2.0h-2.0zM387.1 680.4h2.0v2.0h-2.0zM397.7 674.3h2.0v2.0h-2.0zM400.8 678.3h2.0v2.0h-2.0zM378.5 684.5h2.0v2.0h-2.0zM392.8 688.7h2.0v2.0h-2.0zM388.4 671.6h2.0v2.0h-2.0zM388.3 670.2h2.0v2.0h-2.0zM377.9 671.3h2.0v2.0h-2.0zM387.0 689.4h2.0v2.0h-2.0zM379.7 674.2h2.0v2.0h-2.0zM392.5 673.7h2.0v2.0h-2.0zM394.8 673.5h2.0v2.0h-2.0zM388.2 690.1h2.0v2.0h-2.0zM395.8 685.5h2.0v2.0h-2.0zM378.0 666.8h2.0v2.0h-2.0zM377.9 683.8h2.0v2.0h-2.0zM393.7 678.0h2.0v2.0h-2.0zM370.6 684.7h2.0v2.0h-2.0zM393.9 674.6h2.0v2.0h-2.0zM378.6 684.1h2.0v2.0h-2.0zM400.6 682.7h2.0v2.0h-2.0zM397.8 678.0h2.0v2.0h-2.0zM380.0 683.7h2.0v2.0h-2.0zM377.0 672.7h2.0v2.0h-2.0zM383.2 671.6h2.0v2.0h-2.0zM380.4 668.1h2.0v2.0h-2.0zM390.0 680.8h2.0v2.0h-2.0zM374.2 683.3h2.0v2.0h-2.0zM374.4 688.0h2.0v2.0h-2.0zM377.5 681.9h2.0v2.0h-2.0zM397.7 671.6h2.0v2.0h-2.0zM398.5 674.7h2.0v2.0h-2.0zM379.8 689.6h2.0v2.0h-2.0zM395.5 676.2h2.0v2.0h-2.0zM393.4 672.7h2.0v2.0h-2.0zM394.5 682.9h2.0v2.0h-2.0zM376.4 670.3h2.0v2.0h-2.0zM393.3 671.2h2.0v2.0h-2.0zM398.6 675.9h2.0v2.0h-2.0zM387.2 690.0h2.0v2.0h-2.0zM370.2 678.1h2.0v2.0h-2.0zM376.0 687.9h2.0v2.0h-2.0zM397.5 684.9h2.0v2.0h-2.0zM394.9 668.5h2.0v2.0h-2.0zM380.6 690.3h2.0v2.0h-2.0zM400.9 678.1h2.0v2.0h-2.0zM394.5 673.5h2.0v2.0h-2.0zM384.0 679.3h2.0v2.0h-2.0zM387.7 675.2h2.0v2.0h-2.0zM402.3 681.2h2.0v2.0h-2.0zM380.8 684.4h2.0v2.0h-2.0zM387.1 678.8h2.0v2.0h-2.0zM400.1 681.1h2.0v2.0h-2.0zM373.0 688.2h2.0v2.0h-2.0zM401.1 673.5h2.0v2.0h-2.0zM389.8 666.7h2.0v2.0h-2.0zM391.1 670.7h2.0v2.0h-2.0zM383.3 687.0h2.0v2.0h-2.0zM391.4 684.6h2.0v2.0h-2.0zM383.0 677.8h2.0v2.0h-2.0zM378.6 672.7h2.0v2.0h-2.0zM371.1 680.0h2.0v2.0h-2.0zM401.3 683.4h2.0v2.0h-2.0zM381.9 680.1h2.0v2.0h-2.0zM393.4 673.1h2.0v2.0h-2.0zM399.8 673.4h2.0v2.0h-2.0zM400.9 673.0h2.0v2.0h-2.0zM391.6 689.5h2.0v2.0h-2.0zM396.0 671.3h2.0v2.0h-2.0zM401.6 681.9h2.0v2.0h-2.0zM399.7 684.8h2.0v2.0h-2.0zM385.7 674.1h2.0v2.0h-2.0zM370.8 673.8h2.0v2.0h-2.0zM394.0 676.4h2.0v2.0h-2.0zM384.6 674.1h2.0v2.0h-2.0zM389.0 666.6h2.0v2.0h-2.0zM379.8 681.1h2.0v2.0h-2.0zM387.5 689.0h2.0v2.0h-2.0zM379.0 690.6h2.0v2.0h-2.0zM390.4 674.5h2.0v2.0h-2.0zM382.1 668.5h2.0v2.0h-2.0zM390.0 689.4h2.0v2.0h-2.0zM389.6 681.1h2.0v2.0h-2.0zM389.1 666.6h2.0v2.0h-2.0zM379.5 682.6h2.0v2.0h-2.0zM378.7 690.4h2.0v2.0h-2.0zM380.5 689.8h2.0v2.0h-2.0zM389.5 679.3h2.0v2.0h-2.0zM397.3 677.0h2.0v2.0h-2.0zM373.3 672.9h2.0v2.0h-2.0zM397.1 689.1h2.0v2.0h-2.0zM399.1 674.6h2.0v2.0h-2.0zM371.0 681.7h2.0v2.0h-2.0zM375.7 679.9h2.0v2.0h-2.0zM370.8 685.4h2.0v2.0h-2.0zM380.9 677.7h2.0v2.0h-2.0zM381.3 687.5h2.0v2.0h-2.0zM401.4 672.8h2.0v2.0h-2.0zM398.4 675.4h2.0v2.0h-2.0zM388.0 685.7h2.0v2.0h-2.0zM381.8 689.7h2.0v2.0h-2.0zM382.3 677.2h2.0v2.0h-2.0zM373.1 686.7h2.0v2.0h-2.0zM375.1 677.4h2.0v2.0h-2.0zM378.4 688.3h2.0v2.0h-2.0zM382.6 682.0h2.0v2.0h-2.0zM372.3 680.3h2.0v2.0h-2.0zM383.4 667.2h2.0v2.0h-2.0zM391.7 684.3h2.0v2.0h-2.0z" fill="#a2a2a2"/>
<path d="M385.9 672.5h2.0v2.0h-2.0zM390.4 672.7h2.0v2.0h-2.0zM395.5 668.3h2.0v2.0h-2.0zM386.3 688.0h2.0v2.0h-2.0zM386.3 690.0h2.0v2.0h-2.0zM385.3 681.8h2.0v2.0h-2.0zM388.6 673.4h2.0v2.0h-2.0zM385.0 689.1h2.0v2.0h-2.0zM374.3 673.7h2.0v2.0h-2.0zM378.1 678.6h2.0v2.0h-2.0zM379.5 683.5h2.0v2.0h-2.0zM371.4 672.7h2.0v2.0h-2.0zM392.5 674.1h2.0v2.0h-2.0zM393.7 671.3h2.0v2.0h-2.0zM381.1 686.1h2.0v2.0h-2.0zM383.8 671.9h2.0v2.0h-2.0zM392.0 684.1h2.0v2.0h-2.0zM383.9 671.4h2.0v2.0h-2.0zM379.1 684.5h2.0v2.0h-2.0zM393.3 690.6h2.0v2.0h-2.0zM379.8 674.3h2.0v2.0h-2.0zM388.5 666.1h2.0v2.0h-2.0zM372.3 673.0h2.0v2.0h-2.0zM390.5 665.7h2.0v2.0h-2.0zM393.2 681.4h2.0v2.0h-2.0zM371.4 676.6h2.0v2.0h-2.0zM393.5 686.6h2.0v2.0h-2.0zM381.0 690.6h2.0v2.0h-2.0zM396.0 686.1h2.0v2.0h-2.0zM384.1 671.1h2.0v2.0h-2.0zM388.6 670.9h2.0v2.0h-2.0zM386.9 673.5h2.0v2.0h-2.0zM377.5 684.6h2.0v2.0h-2.0zM371.8 673.3h2.0v2.0h-2.0zM395.8 690.3h2.0v2.0h-2.0zM395.2 690.0h2.0v2.0h-2.0zM387.4 680.4h2.0v2.0h-2.0zM384.7 686.7h2.0v2.0h-2.0zM390.4 672.0h2.0v2.0h-2.0zM372.7 678.2h2.0v2.0h-2.0zM382.2 677.4h2.0v2.0h-2.0zM374.0 686.8h2.0v2.0h-2.0zM383.7 676.4h2.0v2.0h-2.0zM378.6 670.7h2.0v2.0h-2.0zM400.7 681.0h2.0v2.0h-2.0zM380.9 682.1h2.0v2.0h-2.0zM387.0 666.1h2.0v2.0h-2.0zM374.5 684.7h2.0v2.0h-2.0zM388.4 681.0h2.0v2.0h-2.0zM381.0 674.1h2.0v2.0h-2.0zM391.9 687.6h2.0v2.0h-2.0zM374.1 687.4h2.0v2.0h-2.0zM394.4 680.9h2.0v2.0h-2.0zM398.7 681.6h2.0v2.0h-2.0zM378.4 676.2h2.0v2.0h-2.0zM372.5 682.5h2.0v2.0h-2.0zM398.2 677.0h2.0v2.0h-2.0zM379.6 680.9h2.0v2.0h-2.0zM382.6 689.9h2.0v2.0h-2.0zM388.7 671.3h2.0v2.0h-2.0zM378.4 685.3h2.0v2.0h-2.0zM381.5 677.8h2.0v2.0h-2.0zM389.4 690.0h2.0v2.0h-2.0zM375.1 675.3h2.0v2.0h-2.0zM385.9 686.4h2.0v2.0h-2.0zM387.4 676.1h2.0v2.0h-2.0zM374.4 686.4h2.0v2.0h-2.0zM397.6 677.8h2.0v2.0h-2.0zM386.8 689.3h2.0v2.0h-2.0zM377.8 680.4h2.0v2.0h-2.0zM394.7 673.0h2.0v2.0h-2.0zM377.7 681.5h2.0v2.0h-2.0zM381.0 672.8h2.0v2.0h-2.0zM401.6 684.8h2.0v2.0h-2.0zM385.6 684.8h2.0v2.0h-2.0zM399.3 674.6h2.0v2.0h-2.0zM391.0 677.0h2.0v2.0h-2.0zM371.2 679.0h2.0v2.0h-2.0zM373.4 674.1h2.0v2.0h-2.0zM371.7 672.6h2.0v2.0h-2.0zM381.6 670.3h2.0v2.0h-2.0zM378.7 670.9h2.0v2.0h-2.0zM398.8 684.8h2.0v2.0h-2.0zM375.4 682.8h2.0v2.0h-2.0zM380.3 686.2h2.0v2.0h-2.0zM386.7 690.1h2.0v2.0h-2.0zM380.5 678.7h2.0v2.0h-2.0zM386.5 667.1h2.0v2.0h-2.0zM396.8 680.7h2.0v2.0h-2.0zM386.3 683.4h2.0v2.0h-2.0zM372.6 673.4h2.0v2.0h-2.0zM383.7 681.7h2.0v2.0h-2.0zM393.6 683.6h2.0v2.0h-2.0zM401.7 674.6h2.0v2.0h-2.0zM393.6 674.4h2.0v2.0h-2.0zM393.8 686.9h2.0v2.0h-2.0zM397.9 673.5h2.0v2.0h-2.0zM400.3 677.6h2.0v2.0h-2.0zM384.1 683.3h2.0v2.0h-2.0zM387.2 679.6h2.0v2.0h-2.0zM388.4 679.9h2.0v2.0h-2.0zM388.0 688.6h2.0v2.0h-2.0zM393.3 683.7h2.0v2.0h-2.0zM379.9 669.3h2.0v2.0h-2.0zM391.1 673.9h2.0v2.0h-2.0zM377.3 670.2h2.0v2.0h-2.0zM381.5 680.2h2.0v2.0h-2.0zM394.2 676.5h2.0v2.0h-2.0zM381.0 673.8h2.0v2.0h-2.0zM393.4 671.9h2.0v2.0h-2.0zM393.0 674.8h2.0v2.0h-2.0zM383.2 687.6h2.0v2.0h-2.0zM386.8 679.7h2.0v2.0h-2.0zM386.6 667.2h2.0v2.0h-2.0zM398.3 675.0h2.0v2.0h-2.0zM382.3 686.8h2.0v2.0h-2.0zM385.4 678.1h2.0v2.0h-2.0zM384.9 664.8h2.0v2.0h-2.0zM392.9 676.4h2.0v2.0h-2.0zM399.6 670.7h2.0v2.0h-2.0zM391.1 667.2h2.0v2.0h-2.0zM395.5 688.0h2.0v2.0h-2.0zM383.8 683.4h2.0v2.0h-2.0zM381.6 670.8h2.0v2.0h-2.0zM397.2 678.0h2.0v2.0h-2.0zM373.3 682.0h2.0v2.0h-2.0zM372.0 677.7h2.0v2.0h-2.0zM400.4 676.8h2.0v2.0h-2.0zM375.6 672.4h2.0v2.0h-2.0zM388.8 679.1h2.0v2.0h-2.0zM395.5 686.4h2.0v2.0h-2.0zM394.9 677.8h2.0v2.0h-2.0zM385.9 670.2h2.0v2.0h-2.0zM392.9 677.9h2.0v2.0h-2.0zM375.9 683.6h2.0v2.0h-2.0zM380.3 678.7h2.0v2.0h-2.0zM384.4 672.0h2.0v2.0h-2.0zM389.4 670.6h2.0v2.0h-2.0zM398.6 686.4h2.0v2.0h-2.0zM386.7 681.3h2.0v2.0h-2.0zM386.6 687.5h2.0v2.0h-2.0zM386.7 679.2h2.0v2.0h-2.0zM384.9 682.1h2.0v2.0h-2.0zM389.2 689.2h2.0v2.0h-2.0zM391.8 674.6h2.0v2.0h-2.0zM396.4 684.0h2.0v2.0h-2.0zM379.5 670.8h2.0v2.0h-2.0zM386.0 672.5h2.0v2.0h-2.0zM396.4 671.4h2.0v2.0h-2.0zM389.1 685.5h2.0v2.0h-2.0zM386.1 690.4h2.0v2.0h-2.0zM397.3 669.4h2.0v2.0h-2.0zM383.8 690.1h2.0v2.0h-2.0zM387.7 675.6h2.0v2.0h-2.0zM396.0 682.9h2.0v2.0h-2.0zM396.5 684.7h2.0v2.0h-2.0zM401.8 676.2h2.0v2.0h-2.0zM376.5 680.7h2.0v2.0h-2.0zM395.4 673.3h2.0v2.0h-2.0zM401.6 680.2h2.0v2.0h-2.0zM375.7 675.2h2.0v2.0h-2.0zM378.4 690.6h2.0v2.0h-2.0zM390.1 680.9h2.0v2.0h-2.0zM379.9 673.0h2.0v2.0h-2.0zM397.8 689.0h2.0v2.0h-2.0zM398.2 672.8h2.0v2.0h-2.0zM379.6 683.5h2.0v2.0h-2.0zM393.6 689.6h2.0v2.0h-2.0zM373.9 680.1h2.0v2.0h-2.0zM386.7 689.8h2.0v2.0h-2.0zM374.8 671.1h2.0v2.0h-2.0zM384.6 676.8h2.0v2.0h-2.0zM395.0 672.5h2.0v2.0h-2.0zM389.0 689.2h2.0v2.0h-2.0zM387.0 665.7h2.0v2.0h-2.0zM380.5 690.1h2.0v2.0h-2.0zM391.3 667.8h2.0v2.0h-2.0zM373.6 676.3h2.0v2.0h-2.0zM377.7 676.0h2.0v2.0h-2.0zM395.0 680.5h2.0v2.0h-2.0zM400.1 675.0h2.0v2.0h-2.0zM382.6 682.4h2.0v2.0h-2.0zM387.7 691.0h2.0v2.0h-2.0zM398.5 674.8h2.0v2.0h-2.0zM380.1 666.8h2.0v2.0h-2.0zM387.8 677.4h2.0v2.0h-2.0zM398.5 687.2h2.0v2.0h-2.0zM382.4 676.7h2.0v2.0h-2.0zM378.3 671.5h2.0v2.0h-2.0zM390.1 686.4h2.0v2.0h-2.0zM396.6 672.9h2.0v2.0h-2.0zM389.6 670.9h2.0v2.0h-2.0zM384.5 672.8h2.0v2.0h-2.0zM392.8 680.1h2.0v2.0h-2.0zM398.2 670.0h2.0v2.0h-2.0zM381.3 685.1h2.0v2.0h-2.0zM392.8 687.6h2.0v2.0h-2.0zM384.6 678.1h2.0v2.0h-2.0zM376.1 670.4h2.0v2.0h-2.0zM384.8 674.4h2.0v2.0h-2.0zM372.1 679.1h2.0v2.0h-2.0zM388.5 685.7h2.0v2.0h-2.0zM389.9 690.6h2.0v2.0h-2.0zM376.4 670.8h2.0v2.0h-2.0zM389.9 667.8h2.0v2.0h-2.0zM392.9 667.4h2.0v2.0h-2.0zM388.8 676.7h2.0v2.0h-2.0zM372.1 678.6h2.0v2.0h-2.0zM375.9 680.3h2.0v2.0h-2.0zM388.4 681.0h2.0v2.0h-2.0z" fill="#bcbcbc"/>
<path d="M400.0 673.0h2.0v2.0h-2.0zM411.6 688.5h2.0v2.0h-2.0zM399.2 684.0h2.0v2.0h-2.0zM385.8 666.1h2.0v2.0h-2.0zM394.2 690.6h2.0v2.0h-2.0zM394.4 668.6h2.0v2.0h-2.0zM392.6 663.0h2.0v2.0h-2.0zM402.5 672.4h2.0v2.0h-2.0zM394.9 666.4h2.0v2.0h-2.0zM372.3 673.2h2.0v2.0h-2.0zM400.8 678.3h2.0v2.0h-2.0zM401.8 677.4h2.0v2.0h-2.0zM374.6 689.0h2.0v2.0h-2.0zM394.5 668.0h2.0v2.0h-2.0zM382.4 665.7h2.0v2.0h-2.0zM386.6 679.7h2.0v2.0h-2.0zM376.4 675.7h2.0v2.0h-2.0zM384.5 680.0h2.0v2.0h-2.0zM392.1 677.6h2.0v2.0h-2.0zM386.1 679.3h2.0v2.0h-2.0zM390.7 667.1h2.0v2.0h-2.0zM383.7 682.4h2.0v2.0h-2.0zM399.9 680.4h2.0v2.0h-2.0zM386.0 690.8h2.0v2.0h-2.0zM387.3 676.4h2.0v2.0h-2.0zM379.6 660.0h2.0v2.0h-2.0zM404.6 674.6h2.0v2.0h-2.0zM405.7 675.3h2.0v2.0h-2.0zM376.7 674.7h2.0v2.0h-2.0zM399.9 676.6h2.0v2.0h-2.0zM392.4 670.5h2.0v2.0h-2.0zM392.8 670.3h2.0v2.0h-2.0zM384.3 690.6h2.0v2.0h-2.0zM391.4 667.0h2.0v2.0h-2.0zM395.2 665.5h2.0v2.0h-2.0zM408.6 670.8h2.0v2.0h-2.0zM398.8 669.3h2.0v2.0h-2.0zM372.7 683.9h2.0v2.0h-2.0zM395.7 681.0h2.0v2.0h-2.0zM378.6 689.9h2.0v2.0h-2.0zM402.0 686.2h2.0v2.0h-2.0zM395.3 667.9h2.0v2.0h-2.0zM385.2 676.7h2.0v2.0h-2.0zM390.5 662.0h2.0v2.0h-2.0zM371.9 681.9h2.0v2.0h-2.0zM375.4 688.3h2.0v2.0h-2.0zM398.1 671.3h2.0v2.0h-2.0zM381.7 690.0h2.0v2.0h-2.0zM389.2 667.5h2.0v2.0h-2.0zM376.9 689.8h2.0v2.0h-2.0zM394.8 687.9h2.0v2.0h-2.0zM398.5 673.3h2.0v2.0h-2.0zM396.4 687.6h2.0v2.0h-2.0zM406.0 681.8h2.0v2.0h-2.0zM388.7 689.7h2.0v2.0h-2.0zM392.2 680.8h2.0v2.0h-2.0zM373.3 679.2h2.0v2.0h-2.0zM401.3 684.2h2.0v2.0h-2.0zM384.3 661.9h2.0v2.0h-2.0zM376.9 668.6h2.0v2.0h-2.0zM390.9 690.1h2.0v2.0h-2.0zM373.0 689.7h2.0v2.0h-2.0zM380.4 685.3h2.0v2.0h-2.0zM405.9 669.1h2.0v2.0h-2.0zM385.9 677.7h2.0v2.0h-2.0zM403.3 686.6h2.0v2.0h-2.0zM392.7 677.8h2.0v2.0h-2.0zM375.0 686.9h2.0v2.0h-2.0zM391.3 668.0h2.0v2.0h-2.0zM377.9 688.6h2.0v2.0h-2.0zM388.9 690.8h2.0v2.0h-2.0zM373.0 690.1h2.0v2.0h-2.0zM382.8 666.9h2.0v2.0h-2.0zM379.9 660.7h2.0v2.0h-2.0zM370.2 665.0h2.0v2.0h-2.0zM398.1 670.9h2.0v2.0h-2.0zM398.8 672.1h2.0v2.0h-2.0zM406.9 679.9h2.0v2.0h-2.0zM385.6 690.2h2.0v2.0h-2.0zM376.6 690.3h2.0v2.0h-2.0zM373.1 686.2h2.0v2.0h-2.0zM371.3 689.1h2.0v2.0h-2.0zM398.7 668.3h2.0v2.0h-2.0zM396.2 670.6h2.0v2.0h-2.0zM394.8 676.4h2.0v2.0h-2.0zM373.6 685.0h2.0v2.0h-2.0zM389.5 666.6h2.0v2.0h-2.0zM394.0 681.6h2.0v2.0h-2.0zM403.3 684.7h2.0v2.0h-2.0zM377.6 679.4h2.0v2.0h-2.0zM380.8 690.0h2.0v2.0h-2.0zM396.5 690.1h2.0v2.0h-2.0zM382.6 690.9h2.0v2.0h-2.0zM383.8 683.0h2.0v2.0h-2.0zM380.5 667.1h2.0v2.0h-2.0zM377.3 690.1h2.0v2.0h-2.0zM371.8 683.1h2.0v2.0h-2.0zM373.2 674.7h2.0v2.0h-2.0zM381.0 683.8h2.0v2.0h-2.0zM395.6 673.1h2.0v2.0h-2.0zM403.7 681.4h2.0v2.0h-2.0zM397.2 663.2h2.0v2.0h-2.0zM379.9 663.8h2.0v2.0h-2.0zM390.4 686.8h2.0v2.0h-2.0zM377.7 668.3h2.0v2.0h-2.0zM373.5 673.1h2.0v2.0h-2.0zM399.7 684.3h2.0v2.0h-2.0zM396.8 687.9h2.0v2.0h-2.0zM390.2 686.6h2.0v2.0h-2.0zM372.2 663.8h2.0v2.0h-2.0zM412.3 682.1h2.0v2.0h-2.0zM385.4 661.0h2.0v2.0h-2.0zM373.2 671.5h2.0v2.0h-2.0zM376.2 657.3h2.0v2.0h-2.0zM373.4 671.9h2.0v2.0h-2.0zM374.9 671.5h2.0v2.0h-2.0zM388.0 685.1h2.0v2.0h-2.0zM372.6 677.5h2.0v2.0h-2.0zM370.8 677.8h2.0v2.0h-2.0zM393.0 665.5h2.0v2.0h-2.0zM389.4 662.2h2.0v2.0h-2.0zM389.0 665.7h2.0v2.0h-2.0zM378.9 677.6h2.0v2.0h-2.0zM398.5 683.9h2.0v2.0h-2.0zM401.3 665.8h2.0v2.0h-2.0zM379.6 689.3h2.0v2.0h-2.0zM376.3 656.4h2.0v2.0h-2.0zM378.0 661.2h2.0v2.0h-2.0zM382.2 667.4h2.0v2.0h-2.0zM379.1 668.6h2.0v2.0h-2.0zM380.0 673.8h2.0v2.0h-2.0zM394.8 678.5h2.0v2.0h-2.0zM399.3 675.2h2.0v2.0h-2.0zM405.5 678.6h2.0v2.0h-2.0zM376.9 673.3h2.0v2.0h-2.0zM396.9 690.4h2.0v2.0h-2.0zM378.2 678.1h2.0v2.0h-2.0zM388.5 675.9h2.0v2.0h-2.0zM404.2 690.8h2.0v2.0h-2.0zM406.4 678.2h2.0v2.0h-2.0zM386.3 675.8h2.0v2.0h-2.0zM396.5 688.4h2.0v2.0h-2.0zM373.1 683.7h2.0v2.0h-2.0zM399.0 676.9h2.0v2.0h-2.0zM402.5 680.3h2.0v2.0h-2.0zM394.1 690.9h2.0v2.0h-2.0zM389.3 683.4h2.0v2.0h-2.0zM394.2 688.7h2.0v2.0h-2.0zM388.1 687.8h2.0v2.0h-2.0zM372.1 675.9h2.0v2.0h-2.0zM371.5 683.7h2.0v2.0h-2.0zM388.4 690.3h2.0v2.0h-2.0zM397.7 668.6h2.0v2.0h-2.0zM403.6 682.0h2.0v2.0h-2.0zM379.0 666.8h2.0v2.0h-2.0zM373.6 668.9h2.0v2.0h-2.0zM382.3 686.1h2.0v2.0h-2.0zM372.9 689.6h2.0v2.0h-2.0zM375.9 687.6h2.0v2.0h-2.0zM393.8 684.0h2.0v2.0h-2.0zM388.8 667.5h2.0v2.0h-2.0zM402.5 675.7h2.0v2.0h-2.0zM384.7 673.0h2.0v2.0h-2.0zM382.1 690.8h2.0v2.0h-2.0zM381.2 690.2h2.0v2.0h-2.0zM394.5 686.9h2.0v2.0h-2.0zM370.6 688.4h2.0v2.0h-2.0zM386.0 675.5h2.0v2.0h-2.0zM403.5 688.7h2.0v2.0h-2.0zM399.3 684.8h2.0v2.0h-2.0zM380.4 676.3h2.0v2.0h-2.0zM388.9 682.3h2.0v2.0h-2.0zM370.2 685.7h2.0v2.0h-2.0zM380.3 671.3h2.0v2.0h-2.0zM371.9 690.1h2.0v2.0h-2.0zM375.4 689.1h2.0v2.0h-2.0zM372.9 672.9h2.0v2.0h-2.0zM401.8 681.8h2.0v2.0h-2.0zM372.7 684.8h2.0v2.0h-2.0zM392.4 677.1h2.0v2.0h-2.0zM398.8 684.1h2.0v2.0h-2.0zM378.7 668.9h2.0v2.0h-2.0zM371.3 675.1h2.0v2.0h-2.0zM403.5 669.7h2.0v2.0h-2.0zM388.0 680.7h2.0v2.0h-2.0zM390.7 676.9h2.0v2.0h-2.0zM387.7 660.8h2.0v2.0h-2.0zM389.0 672.7h2.0v2.0h-2.0zM385.5 674.7h2.0v2.0h-2.0zM370.0 670.4h2.0v2.0h-2.0zM395.3 666.3h2.0v2.0h-2.0zM372.0 689.2h2.0v2.0h-2.0zM378.8 665.1h2.0v2.0h-2.0zM377.7 689.5h2.0v2.0h-2.0zM373.6 687.0h2.0v2.0h-2.0zM371.1 667.0h2.0v2.0h-2.0zM390.8 683.1h2.0v2.0h-2.0zM373.2 683.5h2.0v2.0h-2.0zM406.8 674.6h2.0v2.0h-2.0zM402.7 687.3h2.0v2.0h-2.0z" fill="#111"/>
<path d="M416.6 679.1h2.0v2.0h-2.0zM417.9 684.6h2.0v2.0h-2.0zM422.5 687.3h2.0v2.0h-2.0zM419.7 686.2h2.0v2.0h-2.0zM419.8 689.2h2.0v2.0h-2.0zM431.9 679.3h2.0v2.0h-2.0zM400.6 688.2h2.0v2.0h-2.0zM409.5 683.8h2.0v2.0h-2.0zM433.8 677.9h2.0v2.0h-2.0zM404.2 680.2h2.0v2.0h-2.0zM399.5 684.6h2.0v2.0h-2.0zM398.9 679.3h2.0v2.0h-2.0zM405.2 686.4h2.0v2.0h-2.0zM409.6 680.1h2.0v2.0h-2.0zM403.2 682.8h2.0v2.0h-2.0zM422.1 684.2h2.0v2.0h-2.0zM421.7 684.0h2.0v2.0h-2.0zM403.1 683.9h2.0v2.0h-2.0zM432.9 681.4h2.0v2.0h-2.0zM424.0 684.8h2.0v2.0h-2.0zM411.0 686.8h2.0v2.0h-2.0zM424.4 673.2h2.0v2.0h-2.0zM413.9 678.0h2.0v2.0h-2.0zM412.1 680.1h2.0v2.0h-2.0zM404.5 680.8h2.0v2.0h-2.0zM410.2 682.9h2.0v2.0h-2.0zM401.3 678.4h2.0v2.0h-2.0zM428.8 670.9h2.0v2.0h-2.0zM412.2 673.7h2.0v2.0h-2.0zM407.8 685.7h2.0v2.0h-2.0zM415.2 674.9h2.0v2.0h-2.0zM407.7 681.6h2.0v2.0h-2.0zM396.4 690.6h2.0v2.0h-2.0zM410.6 684.3h2.0v2.0h-2.0zM396.2 678.6h2.0v2.0h-2.0zM407.5 681.2h2.0v2.0h-2.0zM406.2 681.0h2.0v2.0h-2.0zM424.6 683.8h2.0v2.0h-2.0zM405.3 682.2h2.0v2.0h-2.0zM412.5 683.4h2.0v2.0h-2.0zM401.5 678.3h2.0v2.0h-2.0zM396.9 683.2h2.0v2.0h-2.0zM416.0 682.1h2.0v2.0h-2.0zM420.0 680.9h2.0v2.0h-2.0zM407.8 683.5h2.0v2.0h-2.0zM429.2 689.8h2.0v2.0h-2.0zM382.1 691.0h2.0v2.0h-2.0zM432.6 690.5h2.0v2.0h-2.0zM447.6 690.1h2.0v2.0h-2.0zM410.2 689.8h2.0v2.0h-2.0zM416.0 689.5h2.0v2.0h-2.0zM439.5 690.1h2.0v2.0h-2.0zM423.0 690.4h2.0v2.0h-2.0zM446.7 689.5h2.0v2.0h-2.0zM418.1 690.3h2.0v2.0h-2.0zM398.0 690.7h2.0v2.0h-2.0zM412.5 690.6h2.0v2.0h-2.0zM409.1 689.9h2.0v2.0h-2.0zM413.7 689.6h2.0v2.0h-2.0zM431.3 690.1h2.0v2.0h-2.0zM429.8 690.8h2.0v2.0h-2.0zM454.4 690.2h2.0v2.0h-2.0zM399.2 690.8h2.0v2.0h-2.0zM457.8 689.7h2.0v2.0h-2.0zM412.7 690.6h2.0v2.0h-2.0zM452.1 690.4h2.0v2.0h-2.0zM460.3 689.7h2.0v2.0h-2.0zM306.7 563.8h2.0v2.0h-2.0zM306.3 606.6h2.0v2.0h-2.0zM307.7 593.8h2.0v2.0h-2.0zM307.9 591.6h2.0v2.0h-2.0zM307.9 596.6h2.0v2.0h-2.0zM307.4 605.0h2.0v2.0h-2.0zM307.3 556.8h2.0v2.0h-2.0zM306.9 610.7h2.0v2.0h-2.0zM307.4 591.7h2.0v2.0h-2.0zM306.1 609.5h2.0v2.0h-2.0zM306.3 582.0h2.0v2.0h-2.0zM307.7 588.1h2.0v2.0h-2.0zM306.3 557.3h2.0v2.0h-2.0zM307.9 554.8h2.0v2.0h-2.0zM308.0 563.4h2.0v2.0h-2.0zM306.9 582.5h2.0v2.0h-2.0zM307.2 604.5h2.0v2.0h-2.0zM306.6 597.9h2.0v2.0h-2.0zM419.7 549.0h2.0v2.0h-2.0zM409.0 553.0h2.0v2.0h-2.0zM451.0 570.0h2.0v2.0h-2.0zM457.0 586.0h2.0v2.0h-2.0zM447.0 592.0h2.0v2.0h-2.0zM443.0 597.0h2.0v2.0h-2.0zM437.0 574.0h2.0v2.0h-2.0zM464.0 596.0h2.0v2.0h-2.0zM429.0 610.0h2.0v2.0h-2.0zM455.0 639.0h2.0v2.0h-2.0zM468.0 680.0h2.0v2.0h-2.0zM485.0 688.0h2.0v2.0h-2.0zM359.0 599.0h2.0v2.0h-2.0zM361.0 619.0h2.0v2.0h-2.0zM363.0 623.0h2.0v2.0h-2.0zM365.0 679.0h2.0v2.0h-2.0zM351.0 560.0h2.0v2.0h-2.0zM344.0 605.0h2.0v2.0h-2.0zM339.0 602.0h2.0v2.0h-2.0z" fill="#111"/>
<rect x="306.5" y="530.5" width="199.0" height="162.0" fill="none" stroke="#111" stroke-width="1.15"/>
<line x1="368.90" y1="530.50" x2="368.90" y2="692.50" stroke="#555" stroke-width="1.1"/>
<line x1="306.50" y1="641.60" x2="505.50" y2="641.60" stroke="#555" stroke-width="1.1"/>
<line x1="306.50" y1="692.50" x2="306.50" y2="694.50" stroke="#333" stroke-width="0.8"/>
<text transform="translate(306.13,700.70) scale(1.0331,1)" font-size="7.57" font-weight="bold" fill="#222" stroke="#222">10</text>
<text transform="translate(314.85,697.60) scale(0.8750,1)" font-size="4.29" fill="#444" stroke="#444">0</text>
<line x1="304.50" y1="692.50" x2="306.50" y2="692.50" stroke="#333" stroke-width="0.8"/>
<text transform="translate(303.30,693.17) rotate(-90) scale(0.8423,1)" font-size="9.29" font-weight="bold" fill="#222" stroke="#222">10</text>
<text transform="translate(299.60,684.31) rotate(-90) scale(0.9348,1)" font-size="5.57" fill="#444" stroke="#444">0</text>
<line x1="356.25" y1="692.50" x2="356.25" y2="694.50" stroke="#333" stroke-width="0.8"/>
<text transform="translate(355.88,700.70) scale(1.0331,1)" font-size="7.57" font-weight="bold" fill="#222" stroke="#222">10</text>
<text transform="translate(364.44,697.60) scale(0.9517,1)" font-size="4.35" fill="#444" stroke="#444">1</text>
<line x1="304.50" y1="652.00" x2="306.50" y2="652.00" stroke="#333" stroke-width="0.8"/>
<text transform="translate(303.30,652.67) rotate(-90) scale(0.8423,1)" font-size="9.29" font-weight="bold" fill="#222" stroke="#222">10</text>
<text transform="translate(299.60,644.03) rotate(-90) scale(1.0168,1)" font-size="5.65" fill="#444" stroke="#444">1</text>
<line x1="406.00" y1="692.50" x2="406.00" y2="694.50" stroke="#333" stroke-width="0.8"/>
<text transform="translate(405.63,700.70) scale(1.0331,1)" font-size="7.57" font-weight="bold" fill="#222" stroke="#222">10</text>
<text transform="translate(414.30,697.60) scale(0.9231,1)" font-size="4.29" fill="#444" stroke="#444">2</text>
<line x1="304.50" y1="611.50" x2="306.50" y2="611.50" stroke="#333" stroke-width="0.8"/>
<text transform="translate(303.30,612.17) rotate(-90) scale(0.8423,1)" font-size="9.29" font-weight="bold" fill="#222" stroke="#222">10</text>
<text transform="translate(299.60,603.37) rotate(-90) scale(0.9862,1)" font-size="5.57" fill="#444" stroke="#444">2</text>
<line x1="455.75" y1="692.50" x2="455.75" y2="694.50" stroke="#333" stroke-width="0.8"/>
<text transform="translate(455.38,700.70) scale(1.0331,1)" font-size="7.57" font-weight="bold" fill="#222" stroke="#222">10</text>
<text transform="translate(464.10,697.60) scale(0.8842,1)" font-size="4.29" fill="#444" stroke="#444">3</text>
<line x1="304.50" y1="571.00" x2="306.50" y2="571.00" stroke="#333" stroke-width="0.8"/>
<text transform="translate(303.30,571.67) rotate(-90) scale(0.8423,1)" font-size="9.29" font-weight="bold" fill="#222" stroke="#222">10</text>
<text transform="translate(299.60,562.81) rotate(-90) scale(0.9447,1)" font-size="5.57" fill="#444" stroke="#444">3</text>
<line x1="505.50" y1="692.50" x2="505.50" y2="694.50" stroke="#333" stroke-width="0.8"/>
<text transform="translate(505.13,700.70) scale(1.0331,1)" font-size="7.57" font-weight="bold" fill="#222" stroke="#222">10</text>
<text transform="translate(513.93,697.60) scale(0.8198,1)" font-size="4.35" fill="#444" stroke="#444">4</text>
<line x1="304.50" y1="530.50" x2="306.50" y2="530.50" stroke="#333" stroke-width="0.8"/>
<text transform="translate(303.20,529.93) rotate(-90) scale(0.9415,1)" font-size="7.57" font-weight="bold" fill="#222" stroke="#222">10</text>
<text transform="translate(400.73,707.60) scale(0.8324,1)" font-size="6.62" font-weight="bold" fill="#222" stroke="#222">fl1</text>
<line x1="469.70" y1="532.90" x2="469.70" y2="569.00" stroke="#222" stroke-width="1.2"/>
<line x1="440.80" y1="550.90" x2="498.40" y2="550.90" stroke="#222" stroke-width="1.2"/>
<text transform="translate(440.56,550.20) scale(0.9612,1)" font-size="15.43" fill="#000" stroke="#000">22%</text>
<text transform="translate(475.70,550.50) scale(0.9268,1)" font-size="16.14" fill="#000" stroke="#000">30%</text>
<text transform="translate(446.20,569.70) scale(0.9400,1)" font-size="15.54" fill="#000" stroke="#000">1%</text>
<text transform="translate(477.90,571.20) scale(0.9271,1)" font-size="15.97" fill="#000" stroke="#000">47%</text>
</svg>
</body></html>
